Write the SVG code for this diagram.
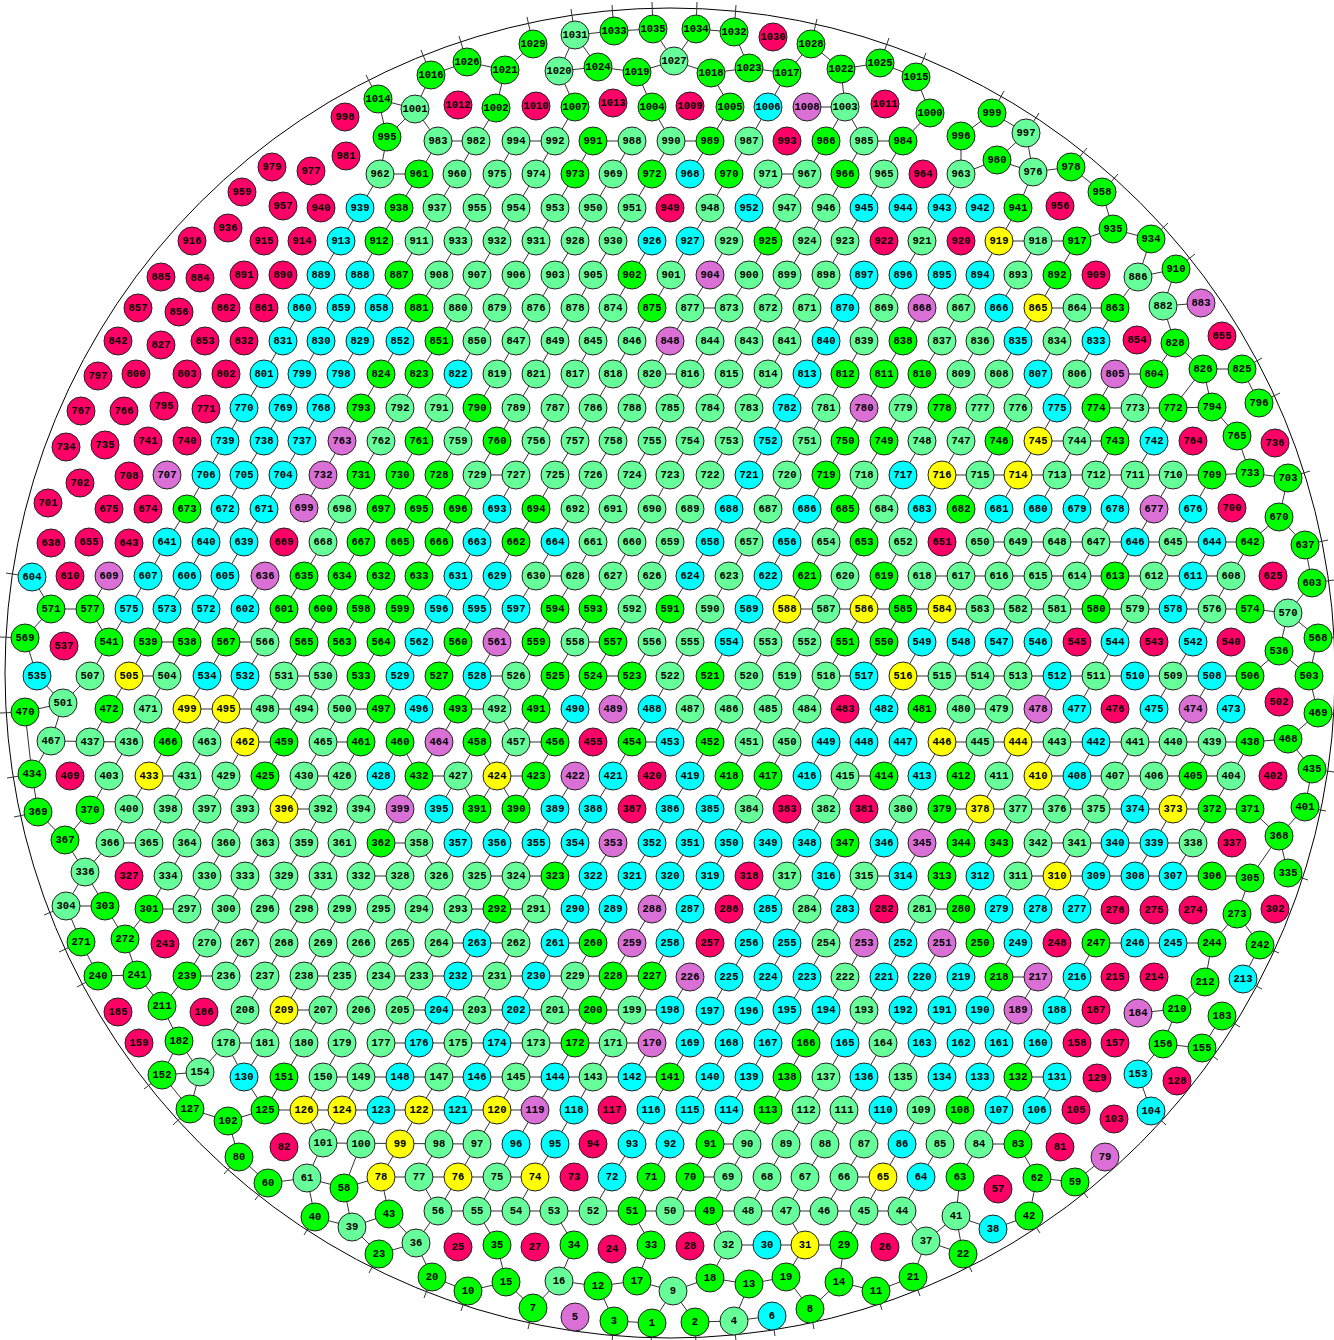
<svg xmlns="http://www.w3.org/2000/svg" width="1334" height="1340" viewBox="0 0 1334 1340">
<style>
.nd circle{stroke:#222;stroke-width:1}
.a circle{fill:#66ff99}
.g circle{fill:#00ff00}
.c circle{fill:#00ffff}
.r circle{fill:#ff0066}
.p circle{fill:#da70d6}
.y circle{fill:#ffff00}
.nd text{font-family:"Liberation Mono","DejaVu Sans Mono",monospace;font-weight:bold;font-size:10.5px;text-anchor:middle;dominant-baseline:central;fill:#000}
.e{fill:none;stroke:#333;stroke-width:1}
</style>
<rect width="1334" height="1340" fill="#fff"/>
<circle cx="670" cy="673" r="665" style="fill:none;stroke:#000;stroke-width:1"/>
<g id="connectors">
<path class="e" d="M378 99 366 75M431 75 421 50M467 62 459 36M533 44 527 17M575 35 571 9M614 31 612 5M653 29 652 2M696 29 697 2M734 32 736 5M811 44 817 19M880 63 889 38M916 77 926 53M992 113 1004 91M1026 133 1039 113M1071 167 1087 148M1102 192 1118 174M1151 239 1168 223M1176 269 1195 254M1242 369 1262 358M1259 403 1280 393M1288 478 1310 471M1305 545 1328 540M1312 583 1334 580M1318 638 1340 637M1318 713 1340 715M1312 769 1334 772M1305 807 1326 811M1288 873 1308 880M1260 945 1279 953M1243 979 1262 989M1222 1016 1240 1027M1202 1048 1218 1060M1151 1111 1166 1125M1075 1182 1088 1198M1029 1216 1040 1233M963 1254 972 1272M913 1277 920 1296M876 1291 882 1310M810 1309 814 1329M772 1316 775 1336M734 1321 736 1341M695 1322 696 1344M652 1323 651 1344M614 1321 612 1342M533 1308 528 1329M468 1291 461 1311M432 1277 424 1298M379 1254 369 1273M315 1217 304 1235M268 1183 255 1200M239 1157 224 1174M190 1109 173 1125M162 1075 144 1089M98 976 77 987M81 942 59 952M66 906 44 915M38 812 14 817M32 774 7 778M25 712 0 713M25 638 0 637M32 577 6 573"/>
<path class="e" d="M575 35 614 31M614 31 653 29M696 29 734 32M533 44 505 70M575 35 559 71M575 35 598 67M653 29 674 61M696 29 674 61M734 32 749 68M811 44 787 73M811 44 841 69M431 75 467 62M467 62 505 70M559 71 598 67M598 67 637 72M637 72 674 61M711 73 749 68M749 68 787 73M841 69 880 63M880 63 916 77M674 61 711 73M711 73 730 107M787 73 768 107M841 69 845 107M916 77 930 113M431 75 415 109M505 70 496 108M559 71 575 107M637 72 652 107M378 99 415 109M807 107 845 107M378 99 387 137M415 109 387 137M415 109 438 141M496 108 476 141M575 107 555 141M652 107 671 141M730 107 710 141M768 107 749 141M845 107 826 141M845 107 864 141M930 113 903 141M961 136 992 113M992 113 1026 133M1026 133 997 160M1026 133 1033 172M997 160 961 174M997 160 1033 172M961 136 961 174M1033 172 1071 167M1033 172 1018 208M1071 167 1102 192M1102 192 1113 229M1113 229 1077 241M1113 229 1151 239M1151 239 1138 277M1138 277 1176 269M1176 269 1163 306M1138 277 1115 308M1163 306 1201 303M1163 306 1175 343M387 137 380 174
M438 141 476 141M516 141 555 141M593 141 632 141M671 141 710 141M864 141 903 141
M438 141 419 174M476 141 457 174M516 141 497 174M555 141 536 174M593 141 575 174M632 141 613 174M671 141 652 174M710 141 690 174M749 141 729 174M826 141 807 174M864 141 845 174M903 141 884 174
M380 174 419 174M768 174 807 174
M380 174 360 208M419 174 399 208M457 174 437 208M497 174 477 208M536 174 516 208M575 174 555 208M613 174 593 208M652 174 632 208M729 174 710 208M768 174 749 208M807 174 787 208M845 174 826 208M884 174 864 208M961 174 942 208
M360 208 341 241M399 208 379 241M437 208 419 241M477 208 458 241M516 208 497 241M555 208 536 241M593 208 575 241M632 208 613 241M710 208 690 241M749 208 729 241M787 208 768 241M826 208 807 241M864 208 845 241M942 208 922 241M1018 208 999 241
M999 241 1077 241
M341 241 321 275M379 241 360 275M419 241 399 275M458 241 439 275M497 241 477 275M536 241 516 275M575 241 555 275M613 241 593 275M652 241 632 275M690 241 671 275M729 241 710 275M768 241 749 275M807 241 787 275M845 241 826 275M922 241 903 275M999 241 980 275M1038 241 1018 275M1077 241 1057 275
M321 275 302 308M360 275 341 308M399 275 379 308M439 275 419 308M477 275 458 308M516 275 497 308M555 275 536 308M593 275 575 308M632 275 613 308M671 275 652 308M710 275 690 308M749 275 729 308M787 275 768 308M826 275 807 308M864 275 845 308M903 275 884 308M942 275 922 308M980 275 961 308M1018 275 999 308M1057 275 1038 308
M690 308 729 308M1038 308 1115 308
M302 308 283 341M341 308 321 341M379 308 360 341M419 308 400 341M458 308 439 341M497 308 477 341M536 308 516 341M575 308 555 341M613 308 593 341M652 308 632 341M690 308 670 341M729 308 710 341M768 308 749 341M807 308 787 341M845 308 826 341M884 308 864 341M922 308 903 341M961 308 942 341M999 308 980 341M1038 308 1018 341M1077 308 1057 341M1115 308 1096 341
M283 341 264 374M321 341 302 374M360 341 341 374M400 341 381 374M439 341 419 374M477 341 458 374M516 341 497 374M555 341 536 374M593 341 575 374M632 341 613 374M670 341 652 374M710 341 690 374M749 341 729 374M787 341 768 374M826 341 807 374M864 341 845 374M903 341 884 374M942 341 922 374M980 341 961 374M1018 341 999 374M1057 341 1038 374M1096 341 1077 374M1175 343 1154 374M1175 343 1203 369
M652 374 690 374M1115 374 1154 374M1203 369 1242 369
M264 374 244 408M302 374 283 408M341 374 321 408M381 374 361 408M419 374 400 408M458 374 439 408M497 374 477 408M536 374 516 408M575 374 555 408M613 374 593 408M652 374 632 408M690 374 670 408M729 374 710 408M768 374 749 408M807 374 787 408M845 374 826 408M884 374 864 408M922 374 903 408M961 374 942 408M999 374 980 408M1038 374 1018 408M1077 374 1057 408M1115 374 1096 408M1154 374 1135 408M1203 369 1173 408M1203 369 1212 407M1242 369 1259 403
M1096 408 1173 408M1173 408 1212 407
M244 408 225 441M283 408 264 441M321 408 302 441M361 408 342 441M400 408 381 441M439 408 419 441M477 408 458 441M516 408 497 441M555 408 536 441M593 408 575 441M632 408 613 441M670 408 652 441M710 408 690 441M749 408 729 441M787 408 768 441M826 408 807 441M864 408 845 441M903 408 884 441M942 408 922 441M980 408 961 441M1018 408 999 441M1057 408 1038 441M1096 408 1077 441M1135 408 1115 441M1173 408 1154 441M1212 407 1237 436
M1038 441 1115 441
M225 441 206 475M264 441 244 475M302 441 283 475M342 441 323 475M381 441 361 475M419 441 400 475M458 441 439 475M497 441 477 475M536 441 516 475M575 441 555 475M613 441 593 475M652 441 632 475M690 441 670 475M729 441 710 475M768 441 749 475M807 441 787 475M845 441 826 475M884 441 864 475M922 441 903 475M961 441 942 475M999 441 980 475M1038 441 1018 475M1077 441 1057 475M1115 441 1096 475M1154 441 1135 475M1237 436 1250 473
M477 475 516 475M942 475 1212 475M1212 475 1250 473M1250 473 1288 478
M206 475 187 509M244 475 225 509M283 475 264 509M323 475 304 508M361 475 342 509M400 475 381 509M439 475 419 509M477 475 458 509M516 475 497 509M555 475 536 509M593 475 575 509M632 475 613 509M670 475 652 509M710 475 690 509M749 475 729 509M787 475 768 509M826 475 807 509M864 475 845 509M903 475 884 509M942 475 922 509M980 475 961 509M1018 475 999 509M1057 475 1038 509M1096 475 1077 509M1135 475 1115 509M1173 475 1154 509M1212 475 1193 509M1288 478 1279 517
M187 509 167 542M225 509 206 542M264 509 244 542M342 509 323 542M381 509 361 542M419 509 400 542M458 509 439 542M497 509 477 542M536 509 516 542M575 509 555 542M613 509 593 542M652 509 632 542M690 509 670 542M729 509 710 542M768 509 749 542M807 509 787 542M845 509 826 542M884 509 864 542M922 509 903 542M999 509 980 542M1038 509 1018 542M1077 509 1057 542M1115 509 1096 542M1154 509 1135 542M1193 509 1173 542M1279 517 1250 542M1279 517 1305 545
M980 542 1250 542
M167 542 148 576M206 542 187 576M244 542 225 576M323 542 304 576M361 542 342 576M400 542 381 576M439 542 419 576M477 542 458 576M516 542 497 576M555 542 536 576M593 542 575 576M632 542 613 576M670 542 652 576M710 542 690 576M749 542 729 576M787 542 768 576M826 542 807 576M864 542 845 576M903 542 884 576M980 542 961 576M1018 542 999 576M1057 542 1038 576M1096 542 1077 576M1135 542 1115 576M1173 542 1154 576M1212 542 1193 576M1250 542 1231 576M1305 545 1312 583
M536 576 575 576M922 576 1231 576
M109 576 90 609M148 576 129 609M187 576 167 609M225 576 206 609M265 576 245 609M304 576 284 609M342 576 323 609M381 576 361 609M419 576 400 609M458 576 439 609M497 576 477 609M536 576 516 609M575 576 555 609M613 576 593 609M652 576 632 609M690 576 670 609M729 576 710 609M768 576 749 609M807 576 787 609M845 576 826 609M884 576 864 609M922 576 903 609M961 576 942 609M999 576 980 609M1038 576 1018 609M1077 576 1057 609M1115 576 1096 609M1154 576 1135 609M1193 576 1173 609M1231 576 1212 609M32 577 51 609M1312 583 1288 613
M51 609 90 609M787 609 1250 609M1250 609 1288 613
M51 609 25 638M90 609 109 642M129 609 109 642M167 609 148 642M206 609 187 642M245 609 226 642M284 609 265 642M323 609 304 642M361 609 342 642M400 609 381 642M439 609 419 642M477 609 458 642M516 609 497 642M555 609 536 642M593 609 575 642M632 609 613 642M670 609 652 642M710 609 690 642M749 609 729 642M787 609 768 642M826 609 807 642M864 609 845 642M903 609 884 642M942 609 922 642M980 609 961 642M1018 609 999 642M1057 609 1038 642M1135 609 1115 642M1212 609 1193 642M1288 613 1279 651M1288 613 1318 638
M148 642 187 642M226 642 265 642M575 642 613 642
M25 638 37 676M109 642 90 676M148 642 129 676M187 642 167 676M226 642 207 676M265 642 245 676M304 642 284 676M342 642 323 676M381 642 361 676M419 642 400 676M458 642 439 676M497 642 477 676M536 642 516 676M575 642 555 676M613 642 593 676M652 642 632 676M690 642 670 676M729 642 710 676M768 642 749 676M807 642 787 676M845 642 826 676M884 642 864 676M922 642 903 676M961 642 942 676M999 642 980 676M1038 642 1018 676M1115 642 1096 676M1193 642 1173 676M1279 651 1250 676M1279 651 1309 676M1318 638 1309 676
M129 676 167 676M284 676 323 676M477 676 516 676M593 676 632 676M826 676 864 676M903 676 1250 676
M37 676 63 703M90 676 63 703M129 676 109 709M167 676 148 709M207 676 187 709M245 676 226 709M284 676 265 709M323 676 304 709M361 676 342 709M400 676 381 709M439 676 419 709M477 676 458 709M516 676 497 709M555 676 536 709M593 676 575 709M632 676 613 709M670 676 652 709M710 676 690 709M749 676 729 709M787 676 768 709M826 676 807 709M903 676 884 709M942 676 922 709M980 676 961 709M1018 676 999 709M1057 676 1038 709M1096 676 1077 709M1173 676 1154 709M1212 676 1193 709M1250 676 1231 709M1309 676 1318 713
M25 712 63 703M187 709 304 709M342 709 381 709M458 709 497 709M961 709 999 709
M63 703 51 741M25 712 32 774M109 709 90 742M148 709 129 742M187 709 168 742M226 709 207 742M265 709 245 742M304 709 284 742M342 709 323 742M381 709 361 742M419 709 400 742M458 709 439 742M497 709 477 742M536 709 516 742M575 709 555 742M652 709 632 742M690 709 670 742M729 709 710 742M768 709 749 742M807 709 787 742M884 709 864 742M922 709 903 742M961 709 942 742M999 709 980 742M1038 709 1018 742M1077 709 1057 742M1154 709 1135 742M1193 709 1173 742M1231 709 1212 742M1318 713 1288 739M497 709 516 742
M51 741 129 742M245 742 284 742M323 742 361 742M516 742 555 742M632 742 670 742M942 742 1250 742M1250 742 1288 739
M51 741 32 774M129 742 109 776M168 742 149 776M207 742 187 776M245 742 226 776M284 742 265 776M323 742 304 776M361 742 342 776M400 742 381 776M439 742 419 776M477 742 458 776M516 742 497 776M555 742 536 776M632 742 613 776M710 742 690 776M749 742 729 776M787 742 768 776M826 742 807 776M864 742 845 776M903 742 884 776M942 742 922 776M980 742 961 776M1018 742 999 776M1057 742 1038 776M1096 742 1077 776M1135 742 1115 776M1173 742 1154 776M1212 742 1193 776M1250 742 1231 776M1288 739 1312 769M400 742 419 776M477 742 497 776
M149 776 187 776M304 776 342 776M419 776 458 776M497 776 536 776M845 776 884 776M1038 776 1231 776
M32 774 38 812M109 776 90 810M149 776 129 809M187 776 168 809M226 776 207 809M265 776 245 809M304 776 284 809M342 776 323 809M381 776 361 809M419 776 400 809M458 776 439 809M497 776 477 809M536 776 516 809M575 776 555 809M613 776 593 809M690 776 670 809M729 776 710 809M768 776 749 809M845 776 826 809M922 776 903 809M961 776 942 809M999 776 980 809M1038 776 1018 809M1077 776 1057 809M1115 776 1096 809M1154 776 1135 809M1193 776 1173 809M1231 776 1212 809M1312 769 1305 807M458 776 477 809M497 776 516 809
M284 809 323 809M942 809 1250 809
M38 812 65 840M90 810 65 840M129 809 110 843M168 809 149 843M207 809 187 843M245 809 226 843M284 809 265 843M323 809 304 843M361 809 342 843M400 809 381 843M439 809 419 843M477 809 458 843M516 809 497 843M555 809 536 843M593 809 575 843M670 809 652 843M710 809 690 843M749 809 729 843M826 809 807 843M903 809 884 843M942 809 922 843M980 809 961 843M1018 809 999 843M1057 809 1038 843M1096 809 1077 843M1135 809 1115 843M1173 809 1154 843M1212 809 1193 843M1250 809 1279 836M1305 807 1279 836
M110 843 149 843M381 843 419 843M1038 843 1193 843
M65 840 85 872M110 843 85 872M187 843 168 876M226 843 207 876M265 843 245 876M304 843 284 876M342 843 323 876M381 843 361 876M419 843 400 876M458 843 439 876M497 843 477 876M536 843 516 876M575 843 555 876M613 843 593 876M652 843 632 876M690 843 670 876M729 843 710 876M807 843 787 876M845 843 826 876M884 843 864 876M922 843 903 876M961 843 942 876M999 843 980 876M1038 843 1018 876M1077 843 1057 876M1115 843 1096 876M1154 843 1135 876M1193 843 1173 876M1279 836 1288 873M1279 836 1250 878M419 843 439 876
M361 876 400 876M477 876 555 876M864 876 903 876M1018 876 1250 876
M85 872 66 906M85 872 105 906M168 876 149 909M207 876 187 909M245 876 226 909M284 876 265 909M323 876 304 909M361 876 342 909M400 876 381 909M439 876 419 909M477 876 458 909M516 876 497 909M555 876 536 909M593 876 575 909M632 876 613 909M670 876 652 909M710 876 690 909M787 876 768 909M826 876 807 909M864 876 845 909M942 876 922 909M980 876 961 909M1018 876 999 909M1057 876 1038 909M1096 876 1077 909M1250 878 1237 914
M66 906 105 906M149 909 187 909M458 909 536 909M922 909 961 909
M66 906 81 942M105 906 125 939M149 909 125 939M226 909 207 943M265 909 245 943M304 909 284 943M342 909 323 943M381 909 361 943M419 909 400 943M458 909 439 943M497 909 477 943M536 909 516 943M575 909 555 943M613 909 593 943M652 909 632 943M690 909 670 943M768 909 749 943M807 909 787 943M845 909 826 943M922 909 903 943M961 909 942 943M999 909 980 943M1038 909 1018 943M1237 914 1212 943M1237 914 1260 945
M439 943 516 943M555 943 593 943M1096 943 1212 943
M81 942 98 976M125 939 137 975M207 943 187 976M245 943 226 976M284 943 265 976M323 943 304 976M361 943 342 976M400 943 381 976M439 943 419 976M477 943 458 976M516 943 497 976M555 943 536 976M593 943 575 976M632 943 613 976M670 943 652 976M749 943 729 977M787 943 768 977M826 943 807 977M864 943 845 977M903 943 884 977M942 943 922 977M980 943 961 977M1018 943 999 977M1096 943 1077 977M1212 943 1205 982M1260 945 1243 979
M98 976 137 975M187 976 226 976M304 976 342 976M381 976 652 976M999 977 1038 977
M137 975 162 1006M187 976 162 1006M265 976 245 1010M304 976 284 1010M342 976 323 1010M381 976 361 1010M419 976 400 1010M458 976 439 1010M497 976 477 1010M536 976 516 1010M575 976 555 1010M613 976 593 1010M652 976 632 1010M690 977 670 1010M729 977 710 1011M768 977 749 1011M807 977 787 1010M845 977 826 1010M884 977 864 1010M922 977 903 1010M961 977 942 1010M999 977 980 1010M1038 977 1018 1010M1077 977 1057 1010M1205 982 1177 1009
M284 1010 323 1010M400 1010 670 1010M1138 1013 1177 1009
M162 1006 179 1041M245 1010 226 1043M284 1010 265 1043M323 1010 304 1043M361 1010 342 1043M400 1010 381 1043M439 1010 419 1043M477 1010 458 1043M516 1010 497 1043M555 1010 536 1043M593 1010 575 1043M632 1010 613 1043M670 1010 652 1043M710 1011 690 1043M749 1011 729 1043M787 1010 768 1043M826 1010 806 1043M864 1010 845 1043M903 1010 883 1043M942 1010 922 1043M980 1010 961 1043M1018 1010 999 1043M1057 1010 1038 1043M1177 1009 1163 1044M1222 1016 1202 1048
M226 1043 265 1043M381 1043 652 1043M1163 1044 1202 1048
M179 1041 162 1075M179 1041 200 1072M226 1043 200 1072M226 1043 244 1077M265 1043 244 1077M304 1043 284 1077M342 1043 323 1077M381 1043 361 1077M419 1043 400 1077M458 1043 439 1077M497 1043 477 1077M536 1043 516 1077M575 1043 555 1077M613 1043 593 1077M652 1043 632 1077M690 1043 670 1077M729 1043 710 1077M768 1043 749 1077M806 1043 787 1077M845 1043 826 1077M883 1043 864 1077M922 1043 903 1077M961 1043 942 1077M999 1043 980 1077M1038 1043 1018 1077M1163 1044 1138 1074
M162 1075 200 1072M323 1077 670 1077M1018 1077 1057 1077
M162 1075 190 1109M200 1072 190 1109M244 1077 265 1110M284 1077 265 1110M323 1077 304 1110M361 1077 342 1110M400 1077 381 1110M439 1077 419 1110M477 1077 458 1110M516 1077 497 1110M555 1077 535 1110M593 1077 574 1110M670 1077 651 1110M710 1077 690 1110M749 1077 729 1110M787 1077 768 1110M826 1077 806 1110M864 1077 844 1110M903 1077 883 1110M942 1077 921 1110M980 1077 960 1110M1018 1077 999 1110M1057 1077 1037 1110M1138 1074 1151 1111
M190 1109 228 1121M228 1121 265 1110M265 1110 535 1110
M228 1121 239 1157M304 1110 323 1143M342 1110 323 1143M381 1110 361 1144M419 1110 400 1144M458 1110 439 1144M497 1110 477 1144M535 1110 516 1144M574 1110 555 1144M651 1110 632 1144M690 1110 670 1144M729 1110 710 1144M768 1110 747 1144M806 1110 786 1144M844 1110 825 1144M883 1110 864 1144M921 1110 902 1144M960 1110 940 1144M999 1110 979 1144M1037 1110 1018 1144
M323 1143 477 1144M710 1144 747 1144M979 1144 1018 1144
M239 1157 268 1183M323 1143 307 1178M361 1144 344 1188M400 1144 381 1177M439 1144 419 1177M477 1144 458 1177M516 1144 497 1177M555 1144 535 1177M632 1144 612 1177M670 1144 651 1177M710 1144 690 1177M747 1144 728 1177M786 1144 767 1177M825 1144 805 1177M864 1144 844 1177M902 1144 883 1177M940 1144 921 1177M979 1144 960 1177M1018 1144 1037 1178M1105 1157 1075 1182
M268 1183 307 1178 344 1188 381 1177 535 1177M690 1177 728 1177M844 1177 883 1177M1037 1178 1075 1182
M307 1178 315 1217M344 1188 352 1227M381 1177 389 1214M419 1177 438 1211M458 1177 438 1211M497 1177 477 1211M535 1177 516 1211M612 1177 593 1211M651 1177 632 1211M690 1177 670 1211M728 1177 709 1211M767 1177 748 1211M805 1177 786 1211M844 1177 824 1211M883 1177 864 1211M921 1177 902 1211M960 1177 956 1216M1037 1178 1029 1216
M315 1217 352 1227 389 1214M438 1211 902 1211M956 1216 993 1229 1029 1216
M352 1227 379 1254M389 1214 416 1243M438 1211 416 1243M477 1211 497 1245M554 1211 574 1245M632 1211 651 1245M709 1211 728 1245M786 1211 805 1245M864 1211 844 1245M902 1211 926 1241M956 1216 926 1241M956 1216 963 1254
M379 1254 416 1243M728 1245 844 1245M926 1241 963 1254
M416 1243 432 1277M497 1245 506 1282M574 1245 559 1281M651 1245 637 1281M728 1245 710 1278M805 1245 786 1277M844 1245 839 1282M926 1241 913 1277
M432 1277 468 1291 506 1282M559 1281 598 1286 637 1281 673 1291 710 1278 749 1284 786 1277M839 1282 876 1291 913 1277
M506 1282 533 1308M559 1281 533 1308M598 1286 614 1321M673 1291 652 1323M673 1291 695 1322M749 1284 734 1321M786 1277 810 1309M839 1282 810 1309
M614 1321 652 1323M695 1322 734 1321 772 1316"/>
</g>
<g id="nodes">
<g id="n1031" class="nd a"><circle cx="575" cy="35" r="14"/><text x="575" y="35">1031</text></g>
<g id="n1033" class="nd g"><circle cx="614" cy="31" r="14"/><text x="614" y="31">1033</text></g>
<g id="n1035" class="nd g"><circle cx="653" cy="29" r="14"/><text x="653" y="29">1035</text></g>
<g id="n1034" class="nd g"><circle cx="696" cy="29" r="14"/><text x="696" y="29">1034</text></g>
<g id="n1032" class="nd g"><circle cx="734" cy="32" r="14"/><text x="734" y="32">1032</text></g>
<g id="n1030" class="nd r"><circle cx="773" cy="37" r="14"/><text x="773" y="37">1030</text></g>
<g id="n1028" class="nd g"><circle cx="811" cy="44" r="14"/><text x="811" y="44">1028</text></g>
<g id="n1029" class="nd g"><circle cx="533" cy="44" r="14"/><text x="533" y="44">1029</text></g>
<g id="n1016" class="nd g"><circle cx="431" cy="75" r="14"/><text x="431" y="75">1016</text></g>
<g id="n1026" class="nd g"><circle cx="467" cy="62" r="14"/><text x="467" y="62">1026</text></g>
<g id="n1021" class="nd g"><circle cx="505" cy="70" r="14"/><text x="505" y="70">1021</text></g>
<g id="n1020" class="nd a"><circle cx="559" cy="71" r="14"/><text x="559" y="71">1020</text></g>
<g id="n1024" class="nd g"><circle cx="598" cy="67" r="14"/><text x="598" y="67">1024</text></g>
<g id="n1019" class="nd g"><circle cx="637" cy="72" r="14"/><text x="637" y="72">1019</text></g>
<g id="n1027" class="nd a"><circle cx="674" cy="61" r="14"/><text x="674" y="61">1027</text></g>
<g id="n1018" class="nd g"><circle cx="711" cy="73" r="14"/><text x="711" y="73">1018</text></g>
<g id="n1023" class="nd g"><circle cx="749" cy="68" r="14"/><text x="749" y="68">1023</text></g>
<g id="n1017" class="nd g"><circle cx="787" cy="73" r="14"/><text x="787" y="73">1017</text></g>
<g id="n1022" class="nd g"><circle cx="841" cy="69" r="14"/><text x="841" y="69">1022</text></g>
<g id="n1025" class="nd g"><circle cx="880" cy="63" r="14"/><text x="880" y="63">1025</text></g>
<g id="n1015" class="nd g"><circle cx="916" cy="77" r="14"/><text x="916" y="77">1015</text></g>
<g id="n1014" class="nd g"><circle cx="378" cy="99" r="14"/><text x="378" y="99">1014</text></g>
<g id="n1001" class="nd a"><circle cx="415" cy="109" r="14"/><text x="415" y="109">1001</text></g>
<g id="n1012" class="nd r"><circle cx="458" cy="105" r="14"/><text x="458" y="105">1012</text></g>
<g id="n1002" class="nd g"><circle cx="496" cy="108" r="14"/><text x="496" y="108">1002</text></g>
<g id="n1010" class="nd r"><circle cx="536" cy="106" r="14"/><text x="536" y="106">1010</text></g>
<g id="n1007" class="nd g"><circle cx="575" cy="107" r="14"/><text x="575" y="107">1007</text></g>
<g id="n1013" class="nd r"><circle cx="613" cy="103" r="14"/><text x="613" y="103">1013</text></g>
<g id="n1004" class="nd g"><circle cx="652" cy="107" r="14"/><text x="652" y="107">1004</text></g>
<g id="n1009" class="nd r"><circle cx="690" cy="106" r="14"/><text x="690" y="106">1009</text></g>
<g id="n1005" class="nd g"><circle cx="730" cy="107" r="14"/><text x="730" y="107">1005</text></g>
<g id="n1006" class="nd c"><circle cx="768" cy="107" r="14"/><text x="768" y="107">1006</text></g>
<g id="n1008" class="nd p"><circle cx="807" cy="107" r="14"/><text x="807" y="107">1008</text></g>
<g id="n1003" class="nd a"><circle cx="845" cy="107" r="14"/><text x="845" y="107">1003</text></g>
<g id="n1011" class="nd r"><circle cx="885" cy="104" r="14"/><text x="885" y="104">1011</text></g>
<g id="n1000" class="nd g"><circle cx="930" cy="113" r="14"/><text x="930" y="113">1000</text></g>
<g id="n998" class="nd r"><circle cx="345" cy="117" r="14"/><text x="345" y="117">998</text></g>
<g id="n999" class="nd g"><circle cx="992" cy="113" r="14"/><text x="992" y="113">999</text></g>
<g id="n997" class="nd a"><circle cx="1026" cy="133" r="14"/><text x="1026" y="133">997</text></g>
<g id="n996" class="nd g"><circle cx="961" cy="136" r="14"/><text x="961" y="136">996</text></g>
<g id="n995" class="nd g"><circle cx="387" cy="137" r="14"/><text x="387" y="137">995</text></g>
<g id="n983" class="nd a"><circle cx="438" cy="141" r="14"/><text x="438" y="141">983</text></g>
<g id="n982" class="nd a"><circle cx="476" cy="141" r="14"/><text x="476" y="141">982</text></g>
<g id="n994" class="nd a"><circle cx="516" cy="141" r="14"/><text x="516" y="141">994</text></g>
<g id="n992" class="nd a"><circle cx="555" cy="141" r="14"/><text x="555" y="141">992</text></g>
<g id="n991" class="nd g"><circle cx="593" cy="141" r="14"/><text x="593" y="141">991</text></g>
<g id="n988" class="nd a"><circle cx="632" cy="141" r="14"/><text x="632" y="141">988</text></g>
<g id="n990" class="nd a"><circle cx="671" cy="141" r="14"/><text x="671" y="141">990</text></g>
<g id="n989" class="nd g"><circle cx="710" cy="141" r="14"/><text x="710" y="141">989</text></g>
<g id="n987" class="nd a"><circle cx="749" cy="141" r="14"/><text x="749" y="141">987</text></g>
<g id="n993" class="nd r"><circle cx="787" cy="141" r="14"/><text x="787" y="141">993</text></g>
<g id="n986" class="nd g"><circle cx="826" cy="141" r="14"/><text x="826" y="141">986</text></g>
<g id="n985" class="nd a"><circle cx="864" cy="141" r="14"/><text x="864" y="141">985</text></g>
<g id="n984" class="nd g"><circle cx="903" cy="141" r="14"/><text x="903" y="141">984</text></g>
<g id="n981" class="nd r"><circle cx="346" cy="156" r="14"/><text x="346" y="156">981</text></g>
<g id="n980" class="nd g"><circle cx="997" cy="160" r="14"/><text x="997" y="160">980</text></g>
<g id="n979" class="nd r"><circle cx="272" cy="167" r="14"/><text x="272" y="167">979</text></g>
<g id="n977" class="nd r"><circle cx="311" cy="171" r="14"/><text x="311" y="171">977</text></g>
<g id="n962" class="nd a"><circle cx="380" cy="174" r="14"/><text x="380" y="174">962</text></g>
<g id="n961" class="nd g"><circle cx="419" cy="174" r="14"/><text x="419" y="174">961</text></g>
<g id="n960" class="nd a"><circle cx="457" cy="174" r="14"/><text x="457" y="174">960</text></g>
<g id="n975" class="nd a"><circle cx="497" cy="174" r="14"/><text x="497" y="174">975</text></g>
<g id="n974" class="nd a"><circle cx="536" cy="174" r="14"/><text x="536" y="174">974</text></g>
<g id="n973" class="nd g"><circle cx="575" cy="174" r="14"/><text x="575" y="174">973</text></g>
<g id="n969" class="nd a"><circle cx="613" cy="174" r="14"/><text x="613" y="174">969</text></g>
<g id="n972" class="nd g"><circle cx="652" cy="174" r="14"/><text x="652" y="174">972</text></g>
<g id="n968" class="nd c"><circle cx="690" cy="174" r="14"/><text x="690" y="174">968</text></g>
<g id="n970" class="nd g"><circle cx="729" cy="174" r="14"/><text x="729" y="174">970</text></g>
<g id="n971" class="nd a"><circle cx="768" cy="174" r="14"/><text x="768" y="174">971</text></g>
<g id="n967" class="nd a"><circle cx="807" cy="174" r="14"/><text x="807" y="174">967</text></g>
<g id="n966" class="nd g"><circle cx="845" cy="174" r="14"/><text x="845" y="174">966</text></g>
<g id="n965" class="nd a"><circle cx="884" cy="174" r="14"/><text x="884" y="174">965</text></g>
<g id="n964" class="nd r"><circle cx="923" cy="174" r="14"/><text x="923" y="174">964</text></g>
<g id="n963" class="nd a"><circle cx="961" cy="174" r="14"/><text x="961" y="174">963</text></g>
<g id="n976" class="nd a"><circle cx="1033" cy="172" r="14"/><text x="1033" y="172">976</text></g>
<g id="n978" class="nd g"><circle cx="1071" cy="167" r="14"/><text x="1071" y="167">978</text></g>
<g id="n959" class="nd r"><circle cx="242" cy="192" r="14"/><text x="242" y="192">959</text></g>
<g id="n958" class="nd g"><circle cx="1102" cy="192" r="14"/><text x="1102" y="192">958</text></g>
<g id="n957" class="nd r"><circle cx="283" cy="206" r="14"/><text x="283" y="206">957</text></g>
<g id="n940" class="nd r"><circle cx="321" cy="208" r="14"/><text x="321" y="208">940</text></g>
<g id="n939" class="nd c"><circle cx="360" cy="208" r="14"/><text x="360" y="208">939</text></g>
<g id="n938" class="nd g"><circle cx="399" cy="208" r="14"/><text x="399" y="208">938</text></g>
<g id="n937" class="nd a"><circle cx="437" cy="208" r="14"/><text x="437" y="208">937</text></g>
<g id="n955" class="nd a"><circle cx="477" cy="208" r="14"/><text x="477" y="208">955</text></g>
<g id="n954" class="nd a"><circle cx="516" cy="208" r="14"/><text x="516" y="208">954</text></g>
<g id="n953" class="nd a"><circle cx="555" cy="208" r="14"/><text x="555" y="208">953</text></g>
<g id="n950" class="nd a"><circle cx="593" cy="208" r="14"/><text x="593" y="208">950</text></g>
<g id="n951" class="nd a"><circle cx="632" cy="208" r="14"/><text x="632" y="208">951</text></g>
<g id="n949" class="nd r"><circle cx="670" cy="208" r="14"/><text x="670" y="208">949</text></g>
<g id="n948" class="nd a"><circle cx="710" cy="208" r="14"/><text x="710" y="208">948</text></g>
<g id="n952" class="nd c"><circle cx="749" cy="208" r="14"/><text x="749" y="208">952</text></g>
<g id="n947" class="nd a"><circle cx="787" cy="208" r="14"/><text x="787" y="208">947</text></g>
<g id="n946" class="nd a"><circle cx="826" cy="208" r="14"/><text x="826" y="208">946</text></g>
<g id="n945" class="nd c"><circle cx="864" cy="208" r="14"/><text x="864" y="208">945</text></g>
<g id="n944" class="nd c"><circle cx="903" cy="208" r="14"/><text x="903" y="208">944</text></g>
<g id="n943" class="nd c"><circle cx="942" cy="208" r="14"/><text x="942" y="208">943</text></g>
<g id="n942" class="nd c"><circle cx="980" cy="208" r="14"/><text x="980" y="208">942</text></g>
<g id="n941" class="nd g"><circle cx="1018" cy="208" r="14"/><text x="1018" y="208">941</text></g>
<g id="n956" class="nd r"><circle cx="1060" cy="206" r="14"/><text x="1060" y="206">956</text></g>
<g id="n936" class="nd r"><circle cx="228" cy="228" r="14"/><text x="228" y="228">936</text></g>
<g id="n935" class="nd g"><circle cx="1113" cy="229" r="14"/><text x="1113" y="229">935</text></g>
<g id="n934" class="nd g"><circle cx="1151" cy="239" r="14"/><text x="1151" y="239">934</text></g>
<g id="n916" class="nd r"><circle cx="192" cy="241" r="14"/><text x="192" y="241">916</text></g>
<g id="n915" class="nd r"><circle cx="264" cy="241" r="14"/><text x="264" y="241">915</text></g>
<g id="n914" class="nd r"><circle cx="302" cy="241" r="14"/><text x="302" y="241">914</text></g>
<g id="n913" class="nd c"><circle cx="341" cy="241" r="14"/><text x="341" y="241">913</text></g>
<g id="n912" class="nd g"><circle cx="379" cy="241" r="14"/><text x="379" y="241">912</text></g>
<g id="n911" class="nd a"><circle cx="419" cy="241" r="14"/><text x="419" y="241">911</text></g>
<g id="n933" class="nd a"><circle cx="458" cy="241" r="14"/><text x="458" y="241">933</text></g>
<g id="n932" class="nd a"><circle cx="497" cy="241" r="14"/><text x="497" y="241">932</text></g>
<g id="n931" class="nd a"><circle cx="536" cy="241" r="14"/><text x="536" y="241">931</text></g>
<g id="n928" class="nd a"><circle cx="575" cy="241" r="14"/><text x="575" y="241">928</text></g>
<g id="n930" class="nd a"><circle cx="613" cy="241" r="14"/><text x="613" y="241">930</text></g>
<g id="n926" class="nd c"><circle cx="652" cy="241" r="14"/><text x="652" y="241">926</text></g>
<g id="n927" class="nd c"><circle cx="690" cy="241" r="14"/><text x="690" y="241">927</text></g>
<g id="n929" class="nd a"><circle cx="729" cy="241" r="14"/><text x="729" y="241">929</text></g>
<g id="n925" class="nd g"><circle cx="768" cy="241" r="14"/><text x="768" y="241">925</text></g>
<g id="n924" class="nd a"><circle cx="807" cy="241" r="14"/><text x="807" y="241">924</text></g>
<g id="n923" class="nd a"><circle cx="845" cy="241" r="14"/><text x="845" y="241">923</text></g>
<g id="n922" class="nd r"><circle cx="884" cy="241" r="14"/><text x="884" y="241">922</text></g>
<g id="n921" class="nd a"><circle cx="922" cy="241" r="14"/><text x="922" y="241">921</text></g>
<g id="n920" class="nd r"><circle cx="961" cy="241" r="14"/><text x="961" y="241">920</text></g>
<g id="n919" class="nd y"><circle cx="999" cy="241" r="14"/><text x="999" y="241">919</text></g>
<g id="n918" class="nd a"><circle cx="1038" cy="241" r="14"/><text x="1038" y="241">918</text></g>
<g id="n917" class="nd g"><circle cx="1077" cy="241" r="14"/><text x="1077" y="241">917</text></g>
<g id="n885" class="nd r"><circle cx="161" cy="277" r="14"/><text x="161" y="277">885</text></g>
<g id="n884" class="nd r"><circle cx="200" cy="278" r="14"/><text x="200" y="278">884</text></g>
<g id="n891" class="nd r"><circle cx="244" cy="275" r="14"/><text x="244" y="275">891</text></g>
<g id="n890" class="nd r"><circle cx="283" cy="275" r="14"/><text x="283" y="275">890</text></g>
<g id="n889" class="nd c"><circle cx="321" cy="275" r="14"/><text x="321" y="275">889</text></g>
<g id="n888" class="nd c"><circle cx="360" cy="275" r="14"/><text x="360" y="275">888</text></g>
<g id="n887" class="nd g"><circle cx="399" cy="275" r="14"/><text x="399" y="275">887</text></g>
<g id="n908" class="nd a"><circle cx="439" cy="275" r="14"/><text x="439" y="275">908</text></g>
<g id="n907" class="nd a"><circle cx="477" cy="275" r="14"/><text x="477" y="275">907</text></g>
<g id="n906" class="nd a"><circle cx="516" cy="275" r="14"/><text x="516" y="275">906</text></g>
<g id="n903" class="nd a"><circle cx="555" cy="275" r="14"/><text x="555" y="275">903</text></g>
<g id="n905" class="nd a"><circle cx="593" cy="275" r="14"/><text x="593" y="275">905</text></g>
<g id="n902" class="nd g"><circle cx="632" cy="275" r="14"/><text x="632" y="275">902</text></g>
<g id="n901" class="nd a"><circle cx="671" cy="275" r="14"/><text x="671" y="275">901</text></g>
<g id="n904" class="nd p"><circle cx="710" cy="275" r="14"/><text x="710" y="275">904</text></g>
<g id="n900" class="nd a"><circle cx="749" cy="275" r="14"/><text x="749" y="275">900</text></g>
<g id="n899" class="nd a"><circle cx="787" cy="275" r="14"/><text x="787" y="275">899</text></g>
<g id="n898" class="nd a"><circle cx="826" cy="275" r="14"/><text x="826" y="275">898</text></g>
<g id="n897" class="nd c"><circle cx="864" cy="275" r="14"/><text x="864" y="275">897</text></g>
<g id="n896" class="nd c"><circle cx="903" cy="275" r="14"/><text x="903" y="275">896</text></g>
<g id="n895" class="nd c"><circle cx="942" cy="275" r="14"/><text x="942" y="275">895</text></g>
<g id="n894" class="nd c"><circle cx="980" cy="275" r="14"/><text x="980" y="275">894</text></g>
<g id="n893" class="nd a"><circle cx="1018" cy="275" r="14"/><text x="1018" y="275">893</text></g>
<g id="n892" class="nd g"><circle cx="1057" cy="275" r="14"/><text x="1057" y="275">892</text></g>
<g id="n909" class="nd r"><circle cx="1096" cy="275" r="14"/><text x="1096" y="275">909</text></g>
<g id="n886" class="nd a"><circle cx="1138" cy="277" r="14"/><text x="1138" y="277">886</text></g>
<g id="n910" class="nd g"><circle cx="1176" cy="269" r="14"/><text x="1176" y="269">910</text></g>
<g id="n857" class="nd r"><circle cx="138" cy="308" r="14"/><text x="138" y="308">857</text></g>
<g id="n856" class="nd r"><circle cx="179" cy="312" r="14"/><text x="179" y="312">856</text></g>
<g id="n862" class="nd r"><circle cx="226" cy="308" r="14"/><text x="226" y="308">862</text></g>
<g id="n861" class="nd r"><circle cx="264" cy="308" r="14"/><text x="264" y="308">861</text></g>
<g id="n860" class="nd c"><circle cx="302" cy="308" r="14"/><text x="302" y="308">860</text></g>
<g id="n859" class="nd c"><circle cx="341" cy="308" r="14"/><text x="341" y="308">859</text></g>
<g id="n858" class="nd c"><circle cx="379" cy="308" r="14"/><text x="379" y="308">858</text></g>
<g id="n881" class="nd g"><circle cx="419" cy="308" r="14"/><text x="419" y="308">881</text></g>
<g id="n880" class="nd a"><circle cx="458" cy="308" r="14"/><text x="458" y="308">880</text></g>
<g id="n879" class="nd a"><circle cx="497" cy="308" r="14"/><text x="497" y="308">879</text></g>
<g id="n876" class="nd a"><circle cx="536" cy="308" r="14"/><text x="536" y="308">876</text></g>
<g id="n878" class="nd a"><circle cx="575" cy="308" r="14"/><text x="575" y="308">878</text></g>
<g id="n874" class="nd a"><circle cx="613" cy="308" r="14"/><text x="613" y="308">874</text></g>
<g id="n875" class="nd g"><circle cx="652" cy="308" r="14"/><text x="652" y="308">875</text></g>
<g id="n877" class="nd a"><circle cx="690" cy="308" r="14"/><text x="690" y="308">877</text></g>
<g id="n873" class="nd a"><circle cx="729" cy="308" r="14"/><text x="729" y="308">873</text></g>
<g id="n872" class="nd a"><circle cx="768" cy="308" r="14"/><text x="768" y="308">872</text></g>
<g id="n871" class="nd a"><circle cx="807" cy="308" r="14"/><text x="807" y="308">871</text></g>
<g id="n870" class="nd c"><circle cx="845" cy="308" r="14"/><text x="845" y="308">870</text></g>
<g id="n869" class="nd a"><circle cx="884" cy="308" r="14"/><text x="884" y="308">869</text></g>
<g id="n868" class="nd p"><circle cx="922" cy="308" r="14"/><text x="922" y="308">868</text></g>
<g id="n867" class="nd a"><circle cx="961" cy="308" r="14"/><text x="961" y="308">867</text></g>
<g id="n866" class="nd c"><circle cx="999" cy="308" r="14"/><text x="999" y="308">866</text></g>
<g id="n865" class="nd y"><circle cx="1038" cy="308" r="14"/><text x="1038" y="308">865</text></g>
<g id="n864" class="nd a"><circle cx="1077" cy="308" r="14"/><text x="1077" y="308">864</text></g>
<g id="n863" class="nd g"><circle cx="1115" cy="308" r="14"/><text x="1115" y="308">863</text></g>
<g id="n882" class="nd a"><circle cx="1163" cy="306" r="14"/><text x="1163" y="306">882</text></g>
<g id="n883" class="nd p"><circle cx="1201" cy="303" r="14"/><text x="1201" y="303">883</text></g>
<g id="n842" class="nd r"><circle cx="118" cy="341" r="14"/><text x="118" y="341">842</text></g>
<g id="n827" class="nd r"><circle cx="161" cy="345" r="14"/><text x="161" y="345">827</text></g>
<g id="n853" class="nd r"><circle cx="205" cy="341" r="14"/><text x="205" y="341">853</text></g>
<g id="n832" class="nd r"><circle cx="244" cy="341" r="14"/><text x="244" y="341">832</text></g>
<g id="n831" class="nd c"><circle cx="283" cy="341" r="14"/><text x="283" y="341">831</text></g>
<g id="n830" class="nd c"><circle cx="321" cy="341" r="14"/><text x="321" y="341">830</text></g>
<g id="n829" class="nd c"><circle cx="360" cy="341" r="14"/><text x="360" y="341">829</text></g>
<g id="n852" class="nd c"><circle cx="400" cy="341" r="14"/><text x="400" y="341">852</text></g>
<g id="n851" class="nd g"><circle cx="439" cy="341" r="14"/><text x="439" y="341">851</text></g>
<g id="n850" class="nd a"><circle cx="477" cy="341" r="14"/><text x="477" y="341">850</text></g>
<g id="n847" class="nd a"><circle cx="516" cy="341" r="14"/><text x="516" y="341">847</text></g>
<g id="n849" class="nd a"><circle cx="555" cy="341" r="14"/><text x="555" y="341">849</text></g>
<g id="n845" class="nd a"><circle cx="593" cy="341" r="14"/><text x="593" y="341">845</text></g>
<g id="n846" class="nd a"><circle cx="632" cy="341" r="14"/><text x="632" y="341">846</text></g>
<g id="n848" class="nd p"><circle cx="670" cy="341" r="14"/><text x="670" y="341">848</text></g>
<g id="n844" class="nd a"><circle cx="710" cy="341" r="14"/><text x="710" y="341">844</text></g>
<g id="n843" class="nd a"><circle cx="749" cy="341" r="14"/><text x="749" y="341">843</text></g>
<g id="n841" class="nd a"><circle cx="787" cy="341" r="14"/><text x="787" y="341">841</text></g>
<g id="n840" class="nd c"><circle cx="826" cy="341" r="14"/><text x="826" y="341">840</text></g>
<g id="n839" class="nd a"><circle cx="864" cy="341" r="14"/><text x="864" y="341">839</text></g>
<g id="n838" class="nd g"><circle cx="903" cy="341" r="14"/><text x="903" y="341">838</text></g>
<g id="n837" class="nd a"><circle cx="942" cy="341" r="14"/><text x="942" y="341">837</text></g>
<g id="n836" class="nd a"><circle cx="980" cy="341" r="14"/><text x="980" y="341">836</text></g>
<g id="n835" class="nd c"><circle cx="1018" cy="341" r="14"/><text x="1018" y="341">835</text></g>
<g id="n834" class="nd a"><circle cx="1057" cy="341" r="14"/><text x="1057" y="341">834</text></g>
<g id="n833" class="nd c"><circle cx="1096" cy="341" r="14"/><text x="1096" y="341">833</text></g>
<g id="n854" class="nd r"><circle cx="1137" cy="340" r="14"/><text x="1137" y="340">854</text></g>
<g id="n828" class="nd g"><circle cx="1175" cy="343" r="14"/><text x="1175" y="343">828</text></g>
<g id="n855" class="nd r"><circle cx="1222" cy="336" r="14"/><text x="1222" y="336">855</text></g>
<g id="n797" class="nd r"><circle cx="98" cy="376" r="14"/><text x="98" y="376">797</text></g>
<g id="n800" class="nd r"><circle cx="136" cy="374" r="14"/><text x="136" y="374">800</text></g>
<g id="n803" class="nd r"><circle cx="187" cy="374" r="14"/><text x="187" y="374">803</text></g>
<g id="n802" class="nd r"><circle cx="226" cy="374" r="14"/><text x="226" y="374">802</text></g>
<g id="n801" class="nd c"><circle cx="264" cy="374" r="14"/><text x="264" y="374">801</text></g>
<g id="n799" class="nd c"><circle cx="302" cy="374" r="14"/><text x="302" y="374">799</text></g>
<g id="n798" class="nd c"><circle cx="341" cy="374" r="14"/><text x="341" y="374">798</text></g>
<g id="n824" class="nd g"><circle cx="381" cy="374" r="14"/><text x="381" y="374">824</text></g>
<g id="n823" class="nd g"><circle cx="419" cy="374" r="14"/><text x="419" y="374">823</text></g>
<g id="n822" class="nd c"><circle cx="458" cy="374" r="14"/><text x="458" y="374">822</text></g>
<g id="n819" class="nd a"><circle cx="497" cy="374" r="14"/><text x="497" y="374">819</text></g>
<g id="n821" class="nd a"><circle cx="536" cy="374" r="14"/><text x="536" y="374">821</text></g>
<g id="n817" class="nd a"><circle cx="575" cy="374" r="14"/><text x="575" y="374">817</text></g>
<g id="n818" class="nd a"><circle cx="613" cy="374" r="14"/><text x="613" y="374">818</text></g>
<g id="n820" class="nd a"><circle cx="652" cy="374" r="14"/><text x="652" y="374">820</text></g>
<g id="n816" class="nd a"><circle cx="690" cy="374" r="14"/><text x="690" y="374">816</text></g>
<g id="n815" class="nd a"><circle cx="729" cy="374" r="14"/><text x="729" y="374">815</text></g>
<g id="n814" class="nd a"><circle cx="768" cy="374" r="14"/><text x="768" y="374">814</text></g>
<g id="n813" class="nd c"><circle cx="807" cy="374" r="14"/><text x="807" y="374">813</text></g>
<g id="n812" class="nd g"><circle cx="845" cy="374" r="14"/><text x="845" y="374">812</text></g>
<g id="n811" class="nd g"><circle cx="884" cy="374" r="14"/><text x="884" y="374">811</text></g>
<g id="n810" class="nd g"><circle cx="922" cy="374" r="14"/><text x="922" y="374">810</text></g>
<g id="n809" class="nd a"><circle cx="961" cy="374" r="14"/><text x="961" y="374">809</text></g>
<g id="n808" class="nd a"><circle cx="999" cy="374" r="14"/><text x="999" y="374">808</text></g>
<g id="n807" class="nd c"><circle cx="1038" cy="374" r="14"/><text x="1038" y="374">807</text></g>
<g id="n806" class="nd a"><circle cx="1077" cy="374" r="14"/><text x="1077" y="374">806</text></g>
<g id="n805" class="nd p"><circle cx="1115" cy="374" r="14"/><text x="1115" y="374">805</text></g>
<g id="n804" class="nd g"><circle cx="1154" cy="374" r="14"/><text x="1154" y="374">804</text></g>
<g id="n826" class="nd g"><circle cx="1203" cy="369" r="14"/><text x="1203" y="369">826</text></g>
<g id="n825" class="nd g"><circle cx="1242" cy="369" r="14"/><text x="1242" y="369">825</text></g>
<g id="n767" class="nd r"><circle cx="81" cy="411" r="14"/><text x="81" y="411">767</text></g>
<g id="n766" class="nd r"><circle cx="124" cy="411" r="14"/><text x="124" y="411">766</text></g>
<g id="n795" class="nd r"><circle cx="164" cy="406" r="14"/><text x="164" y="406">795</text></g>
<g id="n771" class="nd r"><circle cx="206" cy="409" r="14"/><text x="206" y="409">771</text></g>
<g id="n770" class="nd c"><circle cx="244" cy="408" r="14"/><text x="244" y="408">770</text></g>
<g id="n769" class="nd c"><circle cx="283" cy="408" r="14"/><text x="283" y="408">769</text></g>
<g id="n768" class="nd c"><circle cx="321" cy="408" r="14"/><text x="321" y="408">768</text></g>
<g id="n793" class="nd g"><circle cx="361" cy="408" r="14"/><text x="361" y="408">793</text></g>
<g id="n792" class="nd a"><circle cx="400" cy="408" r="14"/><text x="400" y="408">792</text></g>
<g id="n791" class="nd a"><circle cx="439" cy="408" r="14"/><text x="439" y="408">791</text></g>
<g id="n790" class="nd g"><circle cx="477" cy="408" r="14"/><text x="477" y="408">790</text></g>
<g id="n789" class="nd a"><circle cx="516" cy="408" r="14"/><text x="516" y="408">789</text></g>
<g id="n787" class="nd a"><circle cx="555" cy="408" r="14"/><text x="555" y="408">787</text></g>
<g id="n786" class="nd a"><circle cx="593" cy="408" r="14"/><text x="593" y="408">786</text></g>
<g id="n788" class="nd a"><circle cx="632" cy="408" r="14"/><text x="632" y="408">788</text></g>
<g id="n785" class="nd a"><circle cx="670" cy="408" r="14"/><text x="670" y="408">785</text></g>
<g id="n784" class="nd a"><circle cx="710" cy="408" r="14"/><text x="710" y="408">784</text></g>
<g id="n783" class="nd a"><circle cx="749" cy="408" r="14"/><text x="749" y="408">783</text></g>
<g id="n782" class="nd c"><circle cx="787" cy="408" r="14"/><text x="787" y="408">782</text></g>
<g id="n781" class="nd a"><circle cx="826" cy="408" r="14"/><text x="826" y="408">781</text></g>
<g id="n780" class="nd p"><circle cx="864" cy="408" r="14"/><text x="864" y="408">780</text></g>
<g id="n779" class="nd a"><circle cx="903" cy="408" r="14"/><text x="903" y="408">779</text></g>
<g id="n778" class="nd g"><circle cx="942" cy="408" r="14"/><text x="942" y="408">778</text></g>
<g id="n777" class="nd a"><circle cx="980" cy="408" r="14"/><text x="980" y="408">777</text></g>
<g id="n776" class="nd a"><circle cx="1018" cy="408" r="14"/><text x="1018" y="408">776</text></g>
<g id="n775" class="nd c"><circle cx="1057" cy="408" r="14"/><text x="1057" y="408">775</text></g>
<g id="n774" class="nd g"><circle cx="1096" cy="408" r="14"/><text x="1096" y="408">774</text></g>
<g id="n773" class="nd a"><circle cx="1135" cy="408" r="14"/><text x="1135" y="408">773</text></g>
<g id="n772" class="nd g"><circle cx="1173" cy="408" r="14"/><text x="1173" y="408">772</text></g>
<g id="n794" class="nd g"><circle cx="1212" cy="407" r="14"/><text x="1212" y="407">794</text></g>
<g id="n796" class="nd g"><circle cx="1259" cy="403" r="14"/><text x="1259" y="403">796</text></g>
<g id="n734" class="nd r"><circle cx="66" cy="447" r="14"/><text x="66" y="447">734</text></g>
<g id="n735" class="nd r"><circle cx="105" cy="445" r="14"/><text x="105" y="445">735</text></g>
<g id="n741" class="nd r"><circle cx="148" cy="441" r="14"/><text x="148" y="441">741</text></g>
<g id="n740" class="nd r"><circle cx="187" cy="441" r="14"/><text x="187" y="441">740</text></g>
<g id="n739" class="nd c"><circle cx="225" cy="441" r="14"/><text x="225" y="441">739</text></g>
<g id="n738" class="nd c"><circle cx="264" cy="441" r="14"/><text x="264" y="441">738</text></g>
<g id="n737" class="nd c"><circle cx="302" cy="441" r="14"/><text x="302" y="441">737</text></g>
<g id="n763" class="nd p"><circle cx="342" cy="441" r="14"/><text x="342" y="441">763</text></g>
<g id="n762" class="nd a"><circle cx="381" cy="441" r="14"/><text x="381" y="441">762</text></g>
<g id="n761" class="nd g"><circle cx="419" cy="441" r="14"/><text x="419" y="441">761</text></g>
<g id="n759" class="nd a"><circle cx="458" cy="441" r="14"/><text x="458" y="441">759</text></g>
<g id="n760" class="nd g"><circle cx="497" cy="441" r="14"/><text x="497" y="441">760</text></g>
<g id="n756" class="nd a"><circle cx="536" cy="441" r="14"/><text x="536" y="441">756</text></g>
<g id="n757" class="nd a"><circle cx="575" cy="441" r="14"/><text x="575" y="441">757</text></g>
<g id="n758" class="nd a"><circle cx="613" cy="441" r="14"/><text x="613" y="441">758</text></g>
<g id="n755" class="nd a"><circle cx="652" cy="441" r="14"/><text x="652" y="441">755</text></g>
<g id="n754" class="nd a"><circle cx="690" cy="441" r="14"/><text x="690" y="441">754</text></g>
<g id="n753" class="nd a"><circle cx="729" cy="441" r="14"/><text x="729" y="441">753</text></g>
<g id="n752" class="nd c"><circle cx="768" cy="441" r="14"/><text x="768" y="441">752</text></g>
<g id="n751" class="nd a"><circle cx="807" cy="441" r="14"/><text x="807" y="441">751</text></g>
<g id="n750" class="nd g"><circle cx="845" cy="441" r="14"/><text x="845" y="441">750</text></g>
<g id="n749" class="nd g"><circle cx="884" cy="441" r="14"/><text x="884" y="441">749</text></g>
<g id="n748" class="nd a"><circle cx="922" cy="441" r="14"/><text x="922" y="441">748</text></g>
<g id="n747" class="nd a"><circle cx="961" cy="441" r="14"/><text x="961" y="441">747</text></g>
<g id="n746" class="nd g"><circle cx="999" cy="441" r="14"/><text x="999" y="441">746</text></g>
<g id="n745" class="nd y"><circle cx="1038" cy="441" r="14"/><text x="1038" y="441">745</text></g>
<g id="n744" class="nd a"><circle cx="1077" cy="441" r="14"/><text x="1077" y="441">744</text></g>
<g id="n743" class="nd g"><circle cx="1115" cy="441" r="14"/><text x="1115" y="441">743</text></g>
<g id="n742" class="nd c"><circle cx="1154" cy="441" r="14"/><text x="1154" y="441">742</text></g>
<g id="n764" class="nd r"><circle cx="1193" cy="441" r="14"/><text x="1193" y="441">764</text></g>
<g id="n765" class="nd g"><circle cx="1237" cy="436" r="14"/><text x="1237" y="436">765</text></g>
<g id="n736" class="nd r"><circle cx="1275" cy="443" r="14"/><text x="1275" y="443">736</text></g>
<g id="n702" class="nd r"><circle cx="80" cy="483" r="14"/><text x="80" y="483">702</text></g>
<g id="n708" class="nd r"><circle cx="129" cy="476" r="14"/><text x="129" y="476">708</text></g>
<g id="n707" class="nd p"><circle cx="167" cy="475" r="14"/><text x="167" y="475">707</text></g>
<g id="n706" class="nd c"><circle cx="206" cy="475" r="14"/><text x="206" y="475">706</text></g>
<g id="n705" class="nd c"><circle cx="244" cy="475" r="14"/><text x="244" y="475">705</text></g>
<g id="n704" class="nd c"><circle cx="283" cy="475" r="14"/><text x="283" y="475">704</text></g>
<g id="n732" class="nd p"><circle cx="323" cy="475" r="14"/><text x="323" y="475">732</text></g>
<g id="n731" class="nd g"><circle cx="361" cy="475" r="14"/><text x="361" y="475">731</text></g>
<g id="n730" class="nd g"><circle cx="400" cy="475" r="14"/><text x="400" y="475">730</text></g>
<g id="n728" class="nd g"><circle cx="439" cy="475" r="14"/><text x="439" y="475">728</text></g>
<g id="n729" class="nd a"><circle cx="477" cy="475" r="14"/><text x="477" y="475">729</text></g>
<g id="n727" class="nd a"><circle cx="516" cy="475" r="14"/><text x="516" y="475">727</text></g>
<g id="n725" class="nd a"><circle cx="555" cy="475" r="14"/><text x="555" y="475">725</text></g>
<g id="n726" class="nd a"><circle cx="593" cy="475" r="14"/><text x="593" y="475">726</text></g>
<g id="n724" class="nd a"><circle cx="632" cy="475" r="14"/><text x="632" y="475">724</text></g>
<g id="n723" class="nd a"><circle cx="670" cy="475" r="14"/><text x="670" y="475">723</text></g>
<g id="n722" class="nd a"><circle cx="710" cy="475" r="14"/><text x="710" y="475">722</text></g>
<g id="n721" class="nd c"><circle cx="749" cy="475" r="14"/><text x="749" y="475">721</text></g>
<g id="n720" class="nd a"><circle cx="787" cy="475" r="14"/><text x="787" y="475">720</text></g>
<g id="n719" class="nd g"><circle cx="826" cy="475" r="14"/><text x="826" y="475">719</text></g>
<g id="n718" class="nd a"><circle cx="864" cy="475" r="14"/><text x="864" y="475">718</text></g>
<g id="n717" class="nd c"><circle cx="903" cy="475" r="14"/><text x="903" y="475">717</text></g>
<g id="n716" class="nd y"><circle cx="942" cy="475" r="14"/><text x="942" y="475">716</text></g>
<g id="n715" class="nd a"><circle cx="980" cy="475" r="14"/><text x="980" y="475">715</text></g>
<g id="n714" class="nd y"><circle cx="1018" cy="475" r="14"/><text x="1018" y="475">714</text></g>
<g id="n713" class="nd a"><circle cx="1057" cy="475" r="14"/><text x="1057" y="475">713</text></g>
<g id="n712" class="nd a"><circle cx="1096" cy="475" r="14"/><text x="1096" y="475">712</text></g>
<g id="n711" class="nd a"><circle cx="1135" cy="475" r="14"/><text x="1135" y="475">711</text></g>
<g id="n710" class="nd a"><circle cx="1173" cy="475" r="14"/><text x="1173" y="475">710</text></g>
<g id="n709" class="nd g"><circle cx="1212" cy="475" r="14"/><text x="1212" y="475">709</text></g>
<g id="n733" class="nd g"><circle cx="1250" cy="473" r="14"/><text x="1250" y="473">733</text></g>
<g id="n703" class="nd g"><circle cx="1288" cy="478" r="14"/><text x="1288" y="478">703</text></g>
<g id="n701" class="nd r"><circle cx="48" cy="503" r="14"/><text x="48" y="503">701</text></g>
<g id="n675" class="nd r"><circle cx="109" cy="509" r="14"/><text x="109" y="509">675</text></g>
<g id="n674" class="nd r"><circle cx="148" cy="509" r="14"/><text x="148" y="509">674</text></g>
<g id="n673" class="nd g"><circle cx="187" cy="509" r="14"/><text x="187" y="509">673</text></g>
<g id="n672" class="nd c"><circle cx="225" cy="509" r="14"/><text x="225" y="509">672</text></g>
<g id="n671" class="nd c"><circle cx="264" cy="509" r="14"/><text x="264" y="509">671</text></g>
<g id="n699" class="nd p"><circle cx="304" cy="508" r="14"/><text x="304" y="508">699</text></g>
<g id="n698" class="nd a"><circle cx="342" cy="509" r="14"/><text x="342" y="509">698</text></g>
<g id="n697" class="nd g"><circle cx="381" cy="509" r="14"/><text x="381" y="509">697</text></g>
<g id="n695" class="nd g"><circle cx="419" cy="509" r="14"/><text x="419" y="509">695</text></g>
<g id="n696" class="nd g"><circle cx="458" cy="509" r="14"/><text x="458" y="509">696</text></g>
<g id="n693" class="nd c"><circle cx="497" cy="509" r="14"/><text x="497" y="509">693</text></g>
<g id="n694" class="nd g"><circle cx="536" cy="509" r="14"/><text x="536" y="509">694</text></g>
<g id="n692" class="nd a"><circle cx="575" cy="509" r="14"/><text x="575" y="509">692</text></g>
<g id="n691" class="nd a"><circle cx="613" cy="509" r="14"/><text x="613" y="509">691</text></g>
<g id="n690" class="nd a"><circle cx="652" cy="509" r="14"/><text x="652" y="509">690</text></g>
<g id="n689" class="nd a"><circle cx="690" cy="509" r="14"/><text x="690" y="509">689</text></g>
<g id="n688" class="nd c"><circle cx="729" cy="509" r="14"/><text x="729" y="509">688</text></g>
<g id="n687" class="nd a"><circle cx="768" cy="509" r="14"/><text x="768" y="509">687</text></g>
<g id="n686" class="nd c"><circle cx="807" cy="509" r="14"/><text x="807" y="509">686</text></g>
<g id="n685" class="nd g"><circle cx="845" cy="509" r="14"/><text x="845" y="509">685</text></g>
<g id="n684" class="nd a"><circle cx="884" cy="509" r="14"/><text x="884" y="509">684</text></g>
<g id="n683" class="nd c"><circle cx="922" cy="509" r="14"/><text x="922" y="509">683</text></g>
<g id="n682" class="nd g"><circle cx="961" cy="509" r="14"/><text x="961" y="509">682</text></g>
<g id="n681" class="nd c"><circle cx="999" cy="509" r="14"/><text x="999" y="509">681</text></g>
<g id="n680" class="nd c"><circle cx="1038" cy="509" r="14"/><text x="1038" y="509">680</text></g>
<g id="n679" class="nd c"><circle cx="1077" cy="509" r="14"/><text x="1077" y="509">679</text></g>
<g id="n678" class="nd c"><circle cx="1115" cy="509" r="14"/><text x="1115" y="509">678</text></g>
<g id="n677" class="nd p"><circle cx="1154" cy="509" r="14"/><text x="1154" y="509">677</text></g>
<g id="n676" class="nd c"><circle cx="1193" cy="509" r="14"/><text x="1193" y="509">676</text></g>
<g id="n700" class="nd r"><circle cx="1232" cy="508" r="14"/><text x="1232" y="508">700</text></g>
<g id="n670" class="nd g"><circle cx="1279" cy="517" r="14"/><text x="1279" y="517">670</text></g>
<g id="n638" class="nd r"><circle cx="51" cy="543" r="14"/><text x="51" y="543">638</text></g>
<g id="n655" class="nd r"><circle cx="89" cy="542" r="14"/><text x="89" y="542">655</text></g>
<g id="n643" class="nd r"><circle cx="129" cy="543" r="14"/><text x="129" y="543">643</text></g>
<g id="n641" class="nd c"><circle cx="167" cy="542" r="14"/><text x="167" y="542">641</text></g>
<g id="n640" class="nd c"><circle cx="206" cy="542" r="14"/><text x="206" y="542">640</text></g>
<g id="n639" class="nd c"><circle cx="244" cy="542" r="14"/><text x="244" y="542">639</text></g>
<g id="n669" class="nd r"><circle cx="284" cy="542" r="14"/><text x="284" y="542">669</text></g>
<g id="n668" class="nd a"><circle cx="323" cy="542" r="14"/><text x="323" y="542">668</text></g>
<g id="n667" class="nd g"><circle cx="361" cy="542" r="14"/><text x="361" y="542">667</text></g>
<g id="n665" class="nd g"><circle cx="400" cy="542" r="14"/><text x="400" y="542">665</text></g>
<g id="n666" class="nd g"><circle cx="439" cy="542" r="14"/><text x="439" y="542">666</text></g>
<g id="n663" class="nd c"><circle cx="477" cy="542" r="14"/><text x="477" y="542">663</text></g>
<g id="n662" class="nd g"><circle cx="516" cy="542" r="14"/><text x="516" y="542">662</text></g>
<g id="n664" class="nd c"><circle cx="555" cy="542" r="14"/><text x="555" y="542">664</text></g>
<g id="n661" class="nd a"><circle cx="593" cy="542" r="14"/><text x="593" y="542">661</text></g>
<g id="n660" class="nd a"><circle cx="632" cy="542" r="14"/><text x="632" y="542">660</text></g>
<g id="n659" class="nd a"><circle cx="670" cy="542" r="14"/><text x="670" y="542">659</text></g>
<g id="n658" class="nd c"><circle cx="710" cy="542" r="14"/><text x="710" y="542">658</text></g>
<g id="n657" class="nd a"><circle cx="749" cy="542" r="14"/><text x="749" y="542">657</text></g>
<g id="n656" class="nd c"><circle cx="787" cy="542" r="14"/><text x="787" y="542">656</text></g>
<g id="n654" class="nd a"><circle cx="826" cy="542" r="14"/><text x="826" y="542">654</text></g>
<g id="n653" class="nd g"><circle cx="864" cy="542" r="14"/><text x="864" y="542">653</text></g>
<g id="n652" class="nd a"><circle cx="903" cy="542" r="14"/><text x="903" y="542">652</text></g>
<g id="n651" class="nd r"><circle cx="942" cy="542" r="14"/><text x="942" y="542">651</text></g>
<g id="n650" class="nd a"><circle cx="980" cy="542" r="14"/><text x="980" y="542">650</text></g>
<g id="n649" class="nd a"><circle cx="1018" cy="542" r="14"/><text x="1018" y="542">649</text></g>
<g id="n648" class="nd a"><circle cx="1057" cy="542" r="14"/><text x="1057" y="542">648</text></g>
<g id="n647" class="nd a"><circle cx="1096" cy="542" r="14"/><text x="1096" y="542">647</text></g>
<g id="n646" class="nd c"><circle cx="1135" cy="542" r="14"/><text x="1135" y="542">646</text></g>
<g id="n645" class="nd a"><circle cx="1173" cy="542" r="14"/><text x="1173" y="542">645</text></g>
<g id="n644" class="nd c"><circle cx="1212" cy="542" r="14"/><text x="1212" y="542">644</text></g>
<g id="n642" class="nd g"><circle cx="1250" cy="542" r="14"/><text x="1250" y="542">642</text></g>
<g id="n637" class="nd g"><circle cx="1305" cy="545" r="14"/><text x="1305" y="545">637</text></g>
<g id="n604" class="nd c"><circle cx="32" cy="577" r="14"/><text x="32" y="577">604</text></g>
<g id="n610" class="nd r"><circle cx="70" cy="576" r="14"/><text x="70" y="576">610</text></g>
<g id="n609" class="nd p"><circle cx="109" cy="576" r="14"/><text x="109" y="576">609</text></g>
<g id="n607" class="nd c"><circle cx="148" cy="576" r="14"/><text x="148" y="576">607</text></g>
<g id="n606" class="nd c"><circle cx="187" cy="576" r="14"/><text x="187" y="576">606</text></g>
<g id="n605" class="nd c"><circle cx="225" cy="576" r="14"/><text x="225" y="576">605</text></g>
<g id="n636" class="nd p"><circle cx="265" cy="576" r="14"/><text x="265" y="576">636</text></g>
<g id="n635" class="nd g"><circle cx="304" cy="576" r="14"/><text x="304" y="576">635</text></g>
<g id="n634" class="nd g"><circle cx="342" cy="576" r="14"/><text x="342" y="576">634</text></g>
<g id="n632" class="nd g"><circle cx="381" cy="576" r="14"/><text x="381" y="576">632</text></g>
<g id="n633" class="nd g"><circle cx="419" cy="576" r="14"/><text x="419" y="576">633</text></g>
<g id="n631" class="nd c"><circle cx="458" cy="576" r="14"/><text x="458" y="576">631</text></g>
<g id="n629" class="nd c"><circle cx="497" cy="576" r="14"/><text x="497" y="576">629</text></g>
<g id="n630" class="nd a"><circle cx="536" cy="576" r="14"/><text x="536" y="576">630</text></g>
<g id="n628" class="nd a"><circle cx="575" cy="576" r="14"/><text x="575" y="576">628</text></g>
<g id="n627" class="nd a"><circle cx="613" cy="576" r="14"/><text x="613" y="576">627</text></g>
<g id="n626" class="nd a"><circle cx="652" cy="576" r="14"/><text x="652" y="576">626</text></g>
<g id="n624" class="nd c"><circle cx="690" cy="576" r="14"/><text x="690" y="576">624</text></g>
<g id="n623" class="nd a"><circle cx="729" cy="576" r="14"/><text x="729" y="576">623</text></g>
<g id="n622" class="nd c"><circle cx="768" cy="576" r="14"/><text x="768" y="576">622</text></g>
<g id="n621" class="nd g"><circle cx="807" cy="576" r="14"/><text x="807" y="576">621</text></g>
<g id="n620" class="nd a"><circle cx="845" cy="576" r="14"/><text x="845" y="576">620</text></g>
<g id="n619" class="nd g"><circle cx="884" cy="576" r="14"/><text x="884" y="576">619</text></g>
<g id="n618" class="nd a"><circle cx="922" cy="576" r="14"/><text x="922" y="576">618</text></g>
<g id="n617" class="nd a"><circle cx="961" cy="576" r="14"/><text x="961" y="576">617</text></g>
<g id="n616" class="nd a"><circle cx="999" cy="576" r="14"/><text x="999" y="576">616</text></g>
<g id="n615" class="nd a"><circle cx="1038" cy="576" r="14"/><text x="1038" y="576">615</text></g>
<g id="n614" class="nd a"><circle cx="1077" cy="576" r="14"/><text x="1077" y="576">614</text></g>
<g id="n613" class="nd g"><circle cx="1115" cy="576" r="14"/><text x="1115" y="576">613</text></g>
<g id="n612" class="nd a"><circle cx="1154" cy="576" r="14"/><text x="1154" y="576">612</text></g>
<g id="n611" class="nd c"><circle cx="1193" cy="576" r="14"/><text x="1193" y="576">611</text></g>
<g id="n608" class="nd a"><circle cx="1231" cy="576" r="14"/><text x="1231" y="576">608</text></g>
<g id="n625" class="nd r"><circle cx="1273" cy="576" r="14"/><text x="1273" y="576">625</text></g>
<g id="n603" class="nd g"><circle cx="1312" cy="583" r="14"/><text x="1312" y="583">603</text></g>
<g id="n571" class="nd g"><circle cx="51" cy="609" r="14"/><text x="51" y="609">571</text></g>
<g id="n577" class="nd g"><circle cx="90" cy="609" r="14"/><text x="90" y="609">577</text></g>
<g id="n575" class="nd c"><circle cx="129" cy="609" r="14"/><text x="129" y="609">575</text></g>
<g id="n573" class="nd c"><circle cx="167" cy="609" r="14"/><text x="167" y="609">573</text></g>
<g id="n572" class="nd c"><circle cx="206" cy="609" r="14"/><text x="206" y="609">572</text></g>
<g id="n602" class="nd c"><circle cx="245" cy="609" r="14"/><text x="245" y="609">602</text></g>
<g id="n601" class="nd g"><circle cx="284" cy="609" r="14"/><text x="284" y="609">601</text></g>
<g id="n600" class="nd g"><circle cx="323" cy="609" r="14"/><text x="323" y="609">600</text></g>
<g id="n598" class="nd g"><circle cx="361" cy="609" r="14"/><text x="361" y="609">598</text></g>
<g id="n599" class="nd g"><circle cx="400" cy="609" r="14"/><text x="400" y="609">599</text></g>
<g id="n596" class="nd c"><circle cx="439" cy="609" r="14"/><text x="439" y="609">596</text></g>
<g id="n595" class="nd c"><circle cx="477" cy="609" r="14"/><text x="477" y="609">595</text></g>
<g id="n597" class="nd c"><circle cx="516" cy="609" r="14"/><text x="516" y="609">597</text></g>
<g id="n594" class="nd g"><circle cx="555" cy="609" r="14"/><text x="555" y="609">594</text></g>
<g id="n593" class="nd g"><circle cx="593" cy="609" r="14"/><text x="593" y="609">593</text></g>
<g id="n592" class="nd a"><circle cx="632" cy="609" r="14"/><text x="632" y="609">592</text></g>
<g id="n591" class="nd g"><circle cx="670" cy="609" r="14"/><text x="670" y="609">591</text></g>
<g id="n590" class="nd a"><circle cx="710" cy="609" r="14"/><text x="710" y="609">590</text></g>
<g id="n589" class="nd c"><circle cx="749" cy="609" r="14"/><text x="749" y="609">589</text></g>
<g id="n588" class="nd y"><circle cx="787" cy="609" r="14"/><text x="787" y="609">588</text></g>
<g id="n587" class="nd a"><circle cx="826" cy="609" r="14"/><text x="826" y="609">587</text></g>
<g id="n586" class="nd y"><circle cx="864" cy="609" r="14"/><text x="864" y="609">586</text></g>
<g id="n585" class="nd g"><circle cx="903" cy="609" r="14"/><text x="903" y="609">585</text></g>
<g id="n584" class="nd y"><circle cx="942" cy="609" r="14"/><text x="942" y="609">584</text></g>
<g id="n583" class="nd a"><circle cx="980" cy="609" r="14"/><text x="980" y="609">583</text></g>
<g id="n582" class="nd a"><circle cx="1018" cy="609" r="14"/><text x="1018" y="609">582</text></g>
<g id="n581" class="nd a"><circle cx="1057" cy="609" r="14"/><text x="1057" y="609">581</text></g>
<g id="n580" class="nd g"><circle cx="1096" cy="609" r="14"/><text x="1096" y="609">580</text></g>
<g id="n579" class="nd a"><circle cx="1135" cy="609" r="14"/><text x="1135" y="609">579</text></g>
<g id="n578" class="nd c"><circle cx="1173" cy="609" r="14"/><text x="1173" y="609">578</text></g>
<g id="n576" class="nd a"><circle cx="1212" cy="609" r="14"/><text x="1212" y="609">576</text></g>
<g id="n574" class="nd g"><circle cx="1250" cy="609" r="14"/><text x="1250" y="609">574</text></g>
<g id="n570" class="nd a"><circle cx="1288" cy="613" r="14"/><text x="1288" y="613">570</text></g>
<g id="n569" class="nd g"><circle cx="25" cy="638" r="14"/><text x="25" y="638">569</text></g>
<g id="n537" class="nd r"><circle cx="64" cy="646" r="14"/><text x="64" y="646">537</text></g>
<g id="n541" class="nd g"><circle cx="109" cy="642" r="14"/><text x="109" y="642">541</text></g>
<g id="n539" class="nd g"><circle cx="148" cy="642" r="14"/><text x="148" y="642">539</text></g>
<g id="n538" class="nd g"><circle cx="187" cy="642" r="14"/><text x="187" y="642">538</text></g>
<g id="n567" class="nd g"><circle cx="226" cy="642" r="14"/><text x="226" y="642">567</text></g>
<g id="n566" class="nd a"><circle cx="265" cy="642" r="14"/><text x="265" y="642">566</text></g>
<g id="n565" class="nd g"><circle cx="304" cy="642" r="14"/><text x="304" y="642">565</text></g>
<g id="n563" class="nd g"><circle cx="342" cy="642" r="14"/><text x="342" y="642">563</text></g>
<g id="n564" class="nd g"><circle cx="381" cy="642" r="14"/><text x="381" y="642">564</text></g>
<g id="n562" class="nd c"><circle cx="419" cy="642" r="14"/><text x="419" y="642">562</text></g>
<g id="n560" class="nd g"><circle cx="458" cy="642" r="14"/><text x="458" y="642">560</text></g>
<g id="n561" class="nd p"><circle cx="497" cy="642" r="14"/><text x="497" y="642">561</text></g>
<g id="n559" class="nd g"><circle cx="536" cy="642" r="14"/><text x="536" y="642">559</text></g>
<g id="n558" class="nd a"><circle cx="575" cy="642" r="14"/><text x="575" y="642">558</text></g>
<g id="n557" class="nd g"><circle cx="613" cy="642" r="14"/><text x="613" y="642">557</text></g>
<g id="n556" class="nd a"><circle cx="652" cy="642" r="14"/><text x="652" y="642">556</text></g>
<g id="n555" class="nd a"><circle cx="690" cy="642" r="14"/><text x="690" y="642">555</text></g>
<g id="n554" class="nd c"><circle cx="729" cy="642" r="14"/><text x="729" y="642">554</text></g>
<g id="n553" class="nd a"><circle cx="768" cy="642" r="14"/><text x="768" y="642">553</text></g>
<g id="n552" class="nd a"><circle cx="807" cy="642" r="14"/><text x="807" y="642">552</text></g>
<g id="n551" class="nd g"><circle cx="845" cy="642" r="14"/><text x="845" y="642">551</text></g>
<g id="n550" class="nd g"><circle cx="884" cy="642" r="14"/><text x="884" y="642">550</text></g>
<g id="n549" class="nd c"><circle cx="922" cy="642" r="14"/><text x="922" y="642">549</text></g>
<g id="n548" class="nd c"><circle cx="961" cy="642" r="14"/><text x="961" y="642">548</text></g>
<g id="n547" class="nd c"><circle cx="999" cy="642" r="14"/><text x="999" y="642">547</text></g>
<g id="n546" class="nd c"><circle cx="1038" cy="642" r="14"/><text x="1038" y="642">546</text></g>
<g id="n545" class="nd r"><circle cx="1077" cy="642" r="14"/><text x="1077" y="642">545</text></g>
<g id="n544" class="nd c"><circle cx="1115" cy="642" r="14"/><text x="1115" y="642">544</text></g>
<g id="n543" class="nd r"><circle cx="1154" cy="642" r="14"/><text x="1154" y="642">543</text></g>
<g id="n542" class="nd c"><circle cx="1193" cy="642" r="14"/><text x="1193" y="642">542</text></g>
<g id="n540" class="nd r"><circle cx="1231" cy="642" r="14"/><text x="1231" y="642">540</text></g>
<g id="n536" class="nd g"><circle cx="1279" cy="651" r="14"/><text x="1279" y="651">536</text></g>
<g id="n568" class="nd g"><circle cx="1318" cy="638" r="14"/><text x="1318" y="638">568</text></g>
<g id="n535" class="nd c"><circle cx="37" cy="676" r="14"/><text x="37" y="676">535</text></g>
<g id="n507" class="nd a"><circle cx="90" cy="676" r="14"/><text x="90" y="676">507</text></g>
<g id="n505" class="nd y"><circle cx="129" cy="676" r="14"/><text x="129" y="676">505</text></g>
<g id="n504" class="nd a"><circle cx="167" cy="676" r="14"/><text x="167" y="676">504</text></g>
<g id="n534" class="nd c"><circle cx="207" cy="676" r="14"/><text x="207" y="676">534</text></g>
<g id="n532" class="nd c"><circle cx="245" cy="676" r="14"/><text x="245" y="676">532</text></g>
<g id="n531" class="nd a"><circle cx="284" cy="676" r="14"/><text x="284" y="676">531</text></g>
<g id="n530" class="nd a"><circle cx="323" cy="676" r="14"/><text x="323" y="676">530</text></g>
<g id="n533" class="nd g"><circle cx="361" cy="676" r="14"/><text x="361" y="676">533</text></g>
<g id="n529" class="nd c"><circle cx="400" cy="676" r="14"/><text x="400" y="676">529</text></g>
<g id="n527" class="nd g"><circle cx="439" cy="676" r="14"/><text x="439" y="676">527</text></g>
<g id="n528" class="nd c"><circle cx="477" cy="676" r="14"/><text x="477" y="676">528</text></g>
<g id="n526" class="nd a"><circle cx="516" cy="676" r="14"/><text x="516" y="676">526</text></g>
<g id="n525" class="nd g"><circle cx="555" cy="676" r="14"/><text x="555" y="676">525</text></g>
<g id="n524" class="nd g"><circle cx="593" cy="676" r="14"/><text x="593" y="676">524</text></g>
<g id="n523" class="nd g"><circle cx="632" cy="676" r="14"/><text x="632" y="676">523</text></g>
<g id="n522" class="nd a"><circle cx="670" cy="676" r="14"/><text x="670" y="676">522</text></g>
<g id="n521" class="nd g"><circle cx="710" cy="676" r="14"/><text x="710" y="676">521</text></g>
<g id="n520" class="nd a"><circle cx="749" cy="676" r="14"/><text x="749" y="676">520</text></g>
<g id="n519" class="nd a"><circle cx="787" cy="676" r="14"/><text x="787" y="676">519</text></g>
<g id="n518" class="nd a"><circle cx="826" cy="676" r="14"/><text x="826" y="676">518</text></g>
<g id="n517" class="nd c"><circle cx="864" cy="676" r="14"/><text x="864" y="676">517</text></g>
<g id="n516" class="nd y"><circle cx="903" cy="676" r="14"/><text x="903" y="676">516</text></g>
<g id="n515" class="nd a"><circle cx="942" cy="676" r="14"/><text x="942" y="676">515</text></g>
<g id="n514" class="nd a"><circle cx="980" cy="676" r="14"/><text x="980" y="676">514</text></g>
<g id="n513" class="nd a"><circle cx="1018" cy="676" r="14"/><text x="1018" y="676">513</text></g>
<g id="n512" class="nd c"><circle cx="1057" cy="676" r="14"/><text x="1057" y="676">512</text></g>
<g id="n511" class="nd a"><circle cx="1096" cy="676" r="14"/><text x="1096" y="676">511</text></g>
<g id="n510" class="nd c"><circle cx="1135" cy="676" r="14"/><text x="1135" y="676">510</text></g>
<g id="n509" class="nd a"><circle cx="1173" cy="676" r="14"/><text x="1173" y="676">509</text></g>
<g id="n508" class="nd c"><circle cx="1212" cy="676" r="14"/><text x="1212" y="676">508</text></g>
<g id="n506" class="nd g"><circle cx="1250" cy="676" r="14"/><text x="1250" y="676">506</text></g>
<g id="n503" class="nd g"><circle cx="1309" cy="676" r="14"/><text x="1309" y="676">503</text></g>
<g id="n470" class="nd g"><circle cx="25" cy="712" r="14"/><text x="25" y="712">470</text></g>
<g id="n501" class="nd a"><circle cx="63" cy="703" r="14"/><text x="63" y="703">501</text></g>
<g id="n472" class="nd g"><circle cx="109" cy="709" r="14"/><text x="109" y="709">472</text></g>
<g id="n471" class="nd a"><circle cx="148" cy="709" r="14"/><text x="148" y="709">471</text></g>
<g id="n499" class="nd y"><circle cx="187" cy="709" r="14"/><text x="187" y="709">499</text></g>
<g id="n495" class="nd y"><circle cx="226" cy="709" r="14"/><text x="226" y="709">495</text></g>
<g id="n498" class="nd a"><circle cx="265" cy="709" r="14"/><text x="265" y="709">498</text></g>
<g id="n494" class="nd a"><circle cx="304" cy="709" r="14"/><text x="304" y="709">494</text></g>
<g id="n500" class="nd a"><circle cx="342" cy="709" r="14"/><text x="342" y="709">500</text></g>
<g id="n497" class="nd g"><circle cx="381" cy="709" r="14"/><text x="381" y="709">497</text></g>
<g id="n496" class="nd c"><circle cx="419" cy="709" r="14"/><text x="419" y="709">496</text></g>
<g id="n493" class="nd g"><circle cx="458" cy="709" r="14"/><text x="458" y="709">493</text></g>
<g id="n492" class="nd a"><circle cx="497" cy="709" r="14"/><text x="497" y="709">492</text></g>
<g id="n491" class="nd g"><circle cx="536" cy="709" r="14"/><text x="536" y="709">491</text></g>
<g id="n490" class="nd c"><circle cx="575" cy="709" r="14"/><text x="575" y="709">490</text></g>
<g id="n489" class="nd p"><circle cx="613" cy="709" r="14"/><text x="613" y="709">489</text></g>
<g id="n488" class="nd c"><circle cx="652" cy="709" r="14"/><text x="652" y="709">488</text></g>
<g id="n487" class="nd a"><circle cx="690" cy="709" r="14"/><text x="690" y="709">487</text></g>
<g id="n486" class="nd a"><circle cx="729" cy="709" r="14"/><text x="729" y="709">486</text></g>
<g id="n485" class="nd a"><circle cx="768" cy="709" r="14"/><text x="768" y="709">485</text></g>
<g id="n484" class="nd a"><circle cx="807" cy="709" r="14"/><text x="807" y="709">484</text></g>
<g id="n483" class="nd r"><circle cx="845" cy="709" r="14"/><text x="845" y="709">483</text></g>
<g id="n482" class="nd c"><circle cx="884" cy="709" r="14"/><text x="884" y="709">482</text></g>
<g id="n481" class="nd g"><circle cx="922" cy="709" r="14"/><text x="922" y="709">481</text></g>
<g id="n480" class="nd a"><circle cx="961" cy="709" r="14"/><text x="961" y="709">480</text></g>
<g id="n479" class="nd a"><circle cx="999" cy="709" r="14"/><text x="999" y="709">479</text></g>
<g id="n478" class="nd p"><circle cx="1038" cy="709" r="14"/><text x="1038" y="709">478</text></g>
<g id="n477" class="nd c"><circle cx="1077" cy="709" r="14"/><text x="1077" y="709">477</text></g>
<g id="n476" class="nd r"><circle cx="1115" cy="709" r="14"/><text x="1115" y="709">476</text></g>
<g id="n475" class="nd c"><circle cx="1154" cy="709" r="14"/><text x="1154" y="709">475</text></g>
<g id="n474" class="nd p"><circle cx="1193" cy="709" r="14"/><text x="1193" y="709">474</text></g>
<g id="n473" class="nd c"><circle cx="1231" cy="709" r="14"/><text x="1231" y="709">473</text></g>
<g id="n502" class="nd r"><circle cx="1279" cy="702" r="14"/><text x="1279" y="702">502</text></g>
<g id="n469" class="nd g"><circle cx="1318" cy="713" r="14"/><text x="1318" y="713">469</text></g>
<g id="n467" class="nd a"><circle cx="51" cy="741" r="14"/><text x="51" y="741">467</text></g>
<g id="n437" class="nd a"><circle cx="90" cy="742" r="14"/><text x="90" y="742">437</text></g>
<g id="n436" class="nd a"><circle cx="129" cy="742" r="14"/><text x="129" y="742">436</text></g>
<g id="n466" class="nd g"><circle cx="168" cy="742" r="14"/><text x="168" y="742">466</text></g>
<g id="n463" class="nd a"><circle cx="207" cy="742" r="14"/><text x="207" y="742">463</text></g>
<g id="n462" class="nd y"><circle cx="245" cy="742" r="14"/><text x="245" y="742">462</text></g>
<g id="n459" class="nd g"><circle cx="284" cy="742" r="14"/><text x="284" y="742">459</text></g>
<g id="n465" class="nd a"><circle cx="323" cy="742" r="14"/><text x="323" y="742">465</text></g>
<g id="n461" class="nd g"><circle cx="361" cy="742" r="14"/><text x="361" y="742">461</text></g>
<g id="n460" class="nd g"><circle cx="400" cy="742" r="14"/><text x="400" y="742">460</text></g>
<g id="n464" class="nd p"><circle cx="439" cy="742" r="14"/><text x="439" y="742">464</text></g>
<g id="n458" class="nd g"><circle cx="477" cy="742" r="14"/><text x="477" y="742">458</text></g>
<g id="n457" class="nd a"><circle cx="516" cy="742" r="14"/><text x="516" y="742">457</text></g>
<g id="n456" class="nd g"><circle cx="555" cy="742" r="14"/><text x="555" y="742">456</text></g>
<g id="n455" class="nd r"><circle cx="593" cy="742" r="14"/><text x="593" y="742">455</text></g>
<g id="n454" class="nd g"><circle cx="632" cy="742" r="14"/><text x="632" y="742">454</text></g>
<g id="n453" class="nd c"><circle cx="670" cy="742" r="14"/><text x="670" y="742">453</text></g>
<g id="n452" class="nd g"><circle cx="710" cy="742" r="14"/><text x="710" y="742">452</text></g>
<g id="n451" class="nd a"><circle cx="749" cy="742" r="14"/><text x="749" y="742">451</text></g>
<g id="n450" class="nd a"><circle cx="787" cy="742" r="14"/><text x="787" y="742">450</text></g>
<g id="n449" class="nd c"><circle cx="826" cy="742" r="14"/><text x="826" y="742">449</text></g>
<g id="n448" class="nd c"><circle cx="864" cy="742" r="14"/><text x="864" y="742">448</text></g>
<g id="n447" class="nd c"><circle cx="903" cy="742" r="14"/><text x="903" y="742">447</text></g>
<g id="n446" class="nd y"><circle cx="942" cy="742" r="14"/><text x="942" y="742">446</text></g>
<g id="n445" class="nd a"><circle cx="980" cy="742" r="14"/><text x="980" y="742">445</text></g>
<g id="n444" class="nd y"><circle cx="1018" cy="742" r="14"/><text x="1018" y="742">444</text></g>
<g id="n443" class="nd a"><circle cx="1057" cy="742" r="14"/><text x="1057" y="742">443</text></g>
<g id="n442" class="nd c"><circle cx="1096" cy="742" r="14"/><text x="1096" y="742">442</text></g>
<g id="n441" class="nd a"><circle cx="1135" cy="742" r="14"/><text x="1135" y="742">441</text></g>
<g id="n440" class="nd a"><circle cx="1173" cy="742" r="14"/><text x="1173" y="742">440</text></g>
<g id="n439" class="nd a"><circle cx="1212" cy="742" r="14"/><text x="1212" y="742">439</text></g>
<g id="n438" class="nd g"><circle cx="1250" cy="742" r="14"/><text x="1250" y="742">438</text></g>
<g id="n468" class="nd g"><circle cx="1288" cy="739" r="14"/><text x="1288" y="739">468</text></g>
<g id="n434" class="nd g"><circle cx="32" cy="774" r="14"/><text x="32" y="774">434</text></g>
<g id="n409" class="nd r"><circle cx="70" cy="776" r="14"/><text x="70" y="776">409</text></g>
<g id="n403" class="nd a"><circle cx="109" cy="776" r="14"/><text x="109" y="776">403</text></g>
<g id="n433" class="nd y"><circle cx="149" cy="776" r="14"/><text x="149" y="776">433</text></g>
<g id="n431" class="nd a"><circle cx="187" cy="776" r="14"/><text x="187" y="776">431</text></g>
<g id="n429" class="nd a"><circle cx="226" cy="776" r="14"/><text x="226" y="776">429</text></g>
<g id="n425" class="nd g"><circle cx="265" cy="776" r="14"/><text x="265" y="776">425</text></g>
<g id="n430" class="nd a"><circle cx="304" cy="776" r="14"/><text x="304" y="776">430</text></g>
<g id="n426" class="nd a"><circle cx="342" cy="776" r="14"/><text x="342" y="776">426</text></g>
<g id="n428" class="nd c"><circle cx="381" cy="776" r="14"/><text x="381" y="776">428</text></g>
<g id="n432" class="nd g"><circle cx="419" cy="776" r="14"/><text x="419" y="776">432</text></g>
<g id="n427" class="nd a"><circle cx="458" cy="776" r="14"/><text x="458" y="776">427</text></g>
<g id="n424" class="nd y"><circle cx="497" cy="776" r="14"/><text x="497" y="776">424</text></g>
<g id="n423" class="nd g"><circle cx="536" cy="776" r="14"/><text x="536" y="776">423</text></g>
<g id="n422" class="nd p"><circle cx="575" cy="776" r="14"/><text x="575" y="776">422</text></g>
<g id="n421" class="nd c"><circle cx="613" cy="776" r="14"/><text x="613" y="776">421</text></g>
<g id="n420" class="nd r"><circle cx="652" cy="776" r="14"/><text x="652" y="776">420</text></g>
<g id="n419" class="nd c"><circle cx="690" cy="776" r="14"/><text x="690" y="776">419</text></g>
<g id="n418" class="nd g"><circle cx="729" cy="776" r="14"/><text x="729" y="776">418</text></g>
<g id="n417" class="nd g"><circle cx="768" cy="776" r="14"/><text x="768" y="776">417</text></g>
<g id="n416" class="nd c"><circle cx="807" cy="776" r="14"/><text x="807" y="776">416</text></g>
<g id="n415" class="nd a"><circle cx="845" cy="776" r="14"/><text x="845" y="776">415</text></g>
<g id="n414" class="nd g"><circle cx="884" cy="776" r="14"/><text x="884" y="776">414</text></g>
<g id="n413" class="nd c"><circle cx="922" cy="776" r="14"/><text x="922" y="776">413</text></g>
<g id="n412" class="nd g"><circle cx="961" cy="776" r="14"/><text x="961" y="776">412</text></g>
<g id="n411" class="nd a"><circle cx="999" cy="776" r="14"/><text x="999" y="776">411</text></g>
<g id="n410" class="nd y"><circle cx="1038" cy="776" r="14"/><text x="1038" y="776">410</text></g>
<g id="n408" class="nd c"><circle cx="1077" cy="776" r="14"/><text x="1077" y="776">408</text></g>
<g id="n407" class="nd a"><circle cx="1115" cy="776" r="14"/><text x="1115" y="776">407</text></g>
<g id="n406" class="nd a"><circle cx="1154" cy="776" r="14"/><text x="1154" y="776">406</text></g>
<g id="n405" class="nd g"><circle cx="1193" cy="776" r="14"/><text x="1193" y="776">405</text></g>
<g id="n404" class="nd a"><circle cx="1231" cy="776" r="14"/><text x="1231" y="776">404</text></g>
<g id="n402" class="nd r"><circle cx="1273" cy="776" r="14"/><text x="1273" y="776">402</text></g>
<g id="n435" class="nd g"><circle cx="1312" cy="769" r="14"/><text x="1312" y="769">435</text></g>
<g id="n369" class="nd g"><circle cx="38" cy="812" r="14"/><text x="38" y="812">369</text></g>
<g id="n370" class="nd g"><circle cx="90" cy="810" r="14"/><text x="90" y="810">370</text></g>
<g id="n400" class="nd a"><circle cx="129" cy="809" r="14"/><text x="129" y="809">400</text></g>
<g id="n398" class="nd a"><circle cx="168" cy="809" r="14"/><text x="168" y="809">398</text></g>
<g id="n397" class="nd a"><circle cx="207" cy="809" r="14"/><text x="207" y="809">397</text></g>
<g id="n393" class="nd a"><circle cx="245" cy="809" r="14"/><text x="245" y="809">393</text></g>
<g id="n396" class="nd y"><circle cx="284" cy="809" r="14"/><text x="284" y="809">396</text></g>
<g id="n392" class="nd a"><circle cx="323" cy="809" r="14"/><text x="323" y="809">392</text></g>
<g id="n394" class="nd a"><circle cx="361" cy="809" r="14"/><text x="361" y="809">394</text></g>
<g id="n399" class="nd p"><circle cx="400" cy="809" r="14"/><text x="400" y="809">399</text></g>
<g id="n395" class="nd c"><circle cx="439" cy="809" r="14"/><text x="439" y="809">395</text></g>
<g id="n391" class="nd g"><circle cx="477" cy="809" r="14"/><text x="477" y="809">391</text></g>
<g id="n390" class="nd g"><circle cx="516" cy="809" r="14"/><text x="516" y="809">390</text></g>
<g id="n389" class="nd c"><circle cx="555" cy="809" r="14"/><text x="555" y="809">389</text></g>
<g id="n388" class="nd c"><circle cx="593" cy="809" r="14"/><text x="593" y="809">388</text></g>
<g id="n387" class="nd r"><circle cx="632" cy="809" r="14"/><text x="632" y="809">387</text></g>
<g id="n386" class="nd c"><circle cx="670" cy="809" r="14"/><text x="670" y="809">386</text></g>
<g id="n385" class="nd c"><circle cx="710" cy="809" r="14"/><text x="710" y="809">385</text></g>
<g id="n384" class="nd a"><circle cx="749" cy="809" r="14"/><text x="749" y="809">384</text></g>
<g id="n383" class="nd r"><circle cx="787" cy="809" r="14"/><text x="787" y="809">383</text></g>
<g id="n382" class="nd a"><circle cx="826" cy="809" r="14"/><text x="826" y="809">382</text></g>
<g id="n381" class="nd r"><circle cx="864" cy="809" r="14"/><text x="864" y="809">381</text></g>
<g id="n380" class="nd a"><circle cx="903" cy="809" r="14"/><text x="903" y="809">380</text></g>
<g id="n379" class="nd g"><circle cx="942" cy="809" r="14"/><text x="942" y="809">379</text></g>
<g id="n378" class="nd y"><circle cx="980" cy="809" r="14"/><text x="980" y="809">378</text></g>
<g id="n377" class="nd a"><circle cx="1018" cy="809" r="14"/><text x="1018" y="809">377</text></g>
<g id="n376" class="nd a"><circle cx="1057" cy="809" r="14"/><text x="1057" y="809">376</text></g>
<g id="n375" class="nd a"><circle cx="1096" cy="809" r="14"/><text x="1096" y="809">375</text></g>
<g id="n374" class="nd c"><circle cx="1135" cy="809" r="14"/><text x="1135" y="809">374</text></g>
<g id="n373" class="nd y"><circle cx="1173" cy="809" r="14"/><text x="1173" y="809">373</text></g>
<g id="n372" class="nd g"><circle cx="1212" cy="809" r="14"/><text x="1212" y="809">372</text></g>
<g id="n371" class="nd g"><circle cx="1250" cy="809" r="14"/><text x="1250" y="809">371</text></g>
<g id="n401" class="nd g"><circle cx="1305" cy="807" r="14"/><text x="1305" y="807">401</text></g>
<g id="n367" class="nd g"><circle cx="65" cy="840" r="14"/><text x="65" y="840">367</text></g>
<g id="n366" class="nd a"><circle cx="110" cy="843" r="14"/><text x="110" y="843">366</text></g>
<g id="n365" class="nd a"><circle cx="149" cy="843" r="14"/><text x="149" y="843">365</text></g>
<g id="n364" class="nd a"><circle cx="187" cy="843" r="14"/><text x="187" y="843">364</text></g>
<g id="n360" class="nd a"><circle cx="226" cy="843" r="14"/><text x="226" y="843">360</text></g>
<g id="n363" class="nd a"><circle cx="265" cy="843" r="14"/><text x="265" y="843">363</text></g>
<g id="n359" class="nd a"><circle cx="304" cy="843" r="14"/><text x="304" y="843">359</text></g>
<g id="n361" class="nd a"><circle cx="342" cy="843" r="14"/><text x="342" y="843">361</text></g>
<g id="n362" class="nd g"><circle cx="381" cy="843" r="14"/><text x="381" y="843">362</text></g>
<g id="n358" class="nd a"><circle cx="419" cy="843" r="14"/><text x="419" y="843">358</text></g>
<g id="n357" class="nd c"><circle cx="458" cy="843" r="14"/><text x="458" y="843">357</text></g>
<g id="n356" class="nd c"><circle cx="497" cy="843" r="14"/><text x="497" y="843">356</text></g>
<g id="n355" class="nd c"><circle cx="536" cy="843" r="14"/><text x="536" y="843">355</text></g>
<g id="n354" class="nd c"><circle cx="575" cy="843" r="14"/><text x="575" y="843">354</text></g>
<g id="n353" class="nd p"><circle cx="613" cy="843" r="14"/><text x="613" y="843">353</text></g>
<g id="n352" class="nd c"><circle cx="652" cy="843" r="14"/><text x="652" y="843">352</text></g>
<g id="n351" class="nd c"><circle cx="690" cy="843" r="14"/><text x="690" y="843">351</text></g>
<g id="n350" class="nd c"><circle cx="729" cy="843" r="14"/><text x="729" y="843">350</text></g>
<g id="n349" class="nd c"><circle cx="768" cy="843" r="14"/><text x="768" y="843">349</text></g>
<g id="n348" class="nd c"><circle cx="807" cy="843" r="14"/><text x="807" y="843">348</text></g>
<g id="n347" class="nd g"><circle cx="845" cy="843" r="14"/><text x="845" y="843">347</text></g>
<g id="n346" class="nd c"><circle cx="884" cy="843" r="14"/><text x="884" y="843">346</text></g>
<g id="n345" class="nd p"><circle cx="922" cy="843" r="14"/><text x="922" y="843">345</text></g>
<g id="n344" class="nd g"><circle cx="961" cy="843" r="14"/><text x="961" y="843">344</text></g>
<g id="n343" class="nd g"><circle cx="999" cy="843" r="14"/><text x="999" y="843">343</text></g>
<g id="n342" class="nd a"><circle cx="1038" cy="843" r="14"/><text x="1038" y="843">342</text></g>
<g id="n341" class="nd a"><circle cx="1077" cy="843" r="14"/><text x="1077" y="843">341</text></g>
<g id="n340" class="nd c"><circle cx="1115" cy="843" r="14"/><text x="1115" y="843">340</text></g>
<g id="n339" class="nd c"><circle cx="1154" cy="843" r="14"/><text x="1154" y="843">339</text></g>
<g id="n338" class="nd a"><circle cx="1193" cy="843" r="14"/><text x="1193" y="843">338</text></g>
<g id="n337" class="nd r"><circle cx="1232" cy="843" r="14"/><text x="1232" y="843">337</text></g>
<g id="n368" class="nd g"><circle cx="1279" cy="836" r="14"/><text x="1279" y="836">368</text></g>
<g id="n336" class="nd a"><circle cx="85" cy="872" r="14"/><text x="85" y="872">336</text></g>
<g id="n327" class="nd r"><circle cx="129" cy="876" r="14"/><text x="129" y="876">327</text></g>
<g id="n334" class="nd a"><circle cx="168" cy="876" r="14"/><text x="168" y="876">334</text></g>
<g id="n330" class="nd a"><circle cx="207" cy="876" r="14"/><text x="207" y="876">330</text></g>
<g id="n333" class="nd a"><circle cx="245" cy="876" r="14"/><text x="245" y="876">333</text></g>
<g id="n329" class="nd a"><circle cx="284" cy="876" r="14"/><text x="284" y="876">329</text></g>
<g id="n331" class="nd a"><circle cx="323" cy="876" r="14"/><text x="323" y="876">331</text></g>
<g id="n332" class="nd a"><circle cx="361" cy="876" r="14"/><text x="361" y="876">332</text></g>
<g id="n328" class="nd a"><circle cx="400" cy="876" r="14"/><text x="400" y="876">328</text></g>
<g id="n326" class="nd a"><circle cx="439" cy="876" r="14"/><text x="439" y="876">326</text></g>
<g id="n325" class="nd a"><circle cx="477" cy="876" r="14"/><text x="477" y="876">325</text></g>
<g id="n324" class="nd a"><circle cx="516" cy="876" r="14"/><text x="516" y="876">324</text></g>
<g id="n323" class="nd g"><circle cx="555" cy="876" r="14"/><text x="555" y="876">323</text></g>
<g id="n322" class="nd c"><circle cx="593" cy="876" r="14"/><text x="593" y="876">322</text></g>
<g id="n321" class="nd c"><circle cx="632" cy="876" r="14"/><text x="632" y="876">321</text></g>
<g id="n320" class="nd c"><circle cx="670" cy="876" r="14"/><text x="670" y="876">320</text></g>
<g id="n319" class="nd c"><circle cx="710" cy="876" r="14"/><text x="710" y="876">319</text></g>
<g id="n318" class="nd r"><circle cx="749" cy="876" r="14"/><text x="749" y="876">318</text></g>
<g id="n317" class="nd a"><circle cx="787" cy="876" r="14"/><text x="787" y="876">317</text></g>
<g id="n316" class="nd c"><circle cx="826" cy="876" r="14"/><text x="826" y="876">316</text></g>
<g id="n315" class="nd a"><circle cx="864" cy="876" r="14"/><text x="864" y="876">315</text></g>
<g id="n314" class="nd c"><circle cx="903" cy="876" r="14"/><text x="903" y="876">314</text></g>
<g id="n313" class="nd g"><circle cx="942" cy="876" r="14"/><text x="942" y="876">313</text></g>
<g id="n312" class="nd c"><circle cx="980" cy="876" r="14"/><text x="980" y="876">312</text></g>
<g id="n311" class="nd a"><circle cx="1018" cy="876" r="14"/><text x="1018" y="876">311</text></g>
<g id="n310" class="nd y"><circle cx="1057" cy="876" r="14"/><text x="1057" y="876">310</text></g>
<g id="n309" class="nd c"><circle cx="1096" cy="876" r="14"/><text x="1096" y="876">309</text></g>
<g id="n308" class="nd c"><circle cx="1135" cy="876" r="14"/><text x="1135" y="876">308</text></g>
<g id="n307" class="nd c"><circle cx="1173" cy="876" r="14"/><text x="1173" y="876">307</text></g>
<g id="n306" class="nd g"><circle cx="1212" cy="876" r="14"/><text x="1212" y="876">306</text></g>
<g id="n305" class="nd g"><circle cx="1250" cy="878" r="14"/><text x="1250" y="878">305</text></g>
<g id="n335" class="nd g"><circle cx="1288" cy="873" r="14"/><text x="1288" y="873">335</text></g>
<g id="n304" class="nd a"><circle cx="66" cy="906" r="14"/><text x="66" y="906">304</text></g>
<g id="n303" class="nd g"><circle cx="105" cy="906" r="14"/><text x="105" y="906">303</text></g>
<g id="n301" class="nd g"><circle cx="149" cy="909" r="14"/><text x="149" y="909">301</text></g>
<g id="n297" class="nd a"><circle cx="187" cy="909" r="14"/><text x="187" y="909">297</text></g>
<g id="n300" class="nd a"><circle cx="226" cy="909" r="14"/><text x="226" y="909">300</text></g>
<g id="n296" class="nd a"><circle cx="265" cy="909" r="14"/><text x="265" y="909">296</text></g>
<g id="n298" class="nd a"><circle cx="304" cy="909" r="14"/><text x="304" y="909">298</text></g>
<g id="n299" class="nd a"><circle cx="342" cy="909" r="14"/><text x="342" y="909">299</text></g>
<g id="n295" class="nd a"><circle cx="381" cy="909" r="14"/><text x="381" y="909">295</text></g>
<g id="n294" class="nd a"><circle cx="419" cy="909" r="14"/><text x="419" y="909">294</text></g>
<g id="n293" class="nd a"><circle cx="458" cy="909" r="14"/><text x="458" y="909">293</text></g>
<g id="n292" class="nd g"><circle cx="497" cy="909" r="14"/><text x="497" y="909">292</text></g>
<g id="n291" class="nd a"><circle cx="536" cy="909" r="14"/><text x="536" y="909">291</text></g>
<g id="n290" class="nd c"><circle cx="575" cy="909" r="14"/><text x="575" y="909">290</text></g>
<g id="n289" class="nd c"><circle cx="613" cy="909" r="14"/><text x="613" y="909">289</text></g>
<g id="n288" class="nd p"><circle cx="652" cy="909" r="14"/><text x="652" y="909">288</text></g>
<g id="n287" class="nd c"><circle cx="690" cy="909" r="14"/><text x="690" y="909">287</text></g>
<g id="n286" class="nd r"><circle cx="729" cy="909" r="14"/><text x="729" y="909">286</text></g>
<g id="n285" class="nd c"><circle cx="768" cy="909" r="14"/><text x="768" y="909">285</text></g>
<g id="n284" class="nd a"><circle cx="807" cy="909" r="14"/><text x="807" y="909">284</text></g>
<g id="n283" class="nd c"><circle cx="845" cy="909" r="14"/><text x="845" y="909">283</text></g>
<g id="n282" class="nd r"><circle cx="884" cy="909" r="14"/><text x="884" y="909">282</text></g>
<g id="n281" class="nd a"><circle cx="922" cy="909" r="14"/><text x="922" y="909">281</text></g>
<g id="n280" class="nd g"><circle cx="961" cy="909" r="14"/><text x="961" y="909">280</text></g>
<g id="n279" class="nd c"><circle cx="999" cy="909" r="14"/><text x="999" y="909">279</text></g>
<g id="n278" class="nd c"><circle cx="1038" cy="909" r="14"/><text x="1038" y="909">278</text></g>
<g id="n277" class="nd c"><circle cx="1077" cy="909" r="14"/><text x="1077" y="909">277</text></g>
<g id="n276" class="nd r"><circle cx="1115" cy="910" r="14"/><text x="1115" y="910">276</text></g>
<g id="n275" class="nd r"><circle cx="1154" cy="910" r="14"/><text x="1154" y="910">275</text></g>
<g id="n274" class="nd r"><circle cx="1193" cy="910" r="14"/><text x="1193" y="910">274</text></g>
<g id="n273" class="nd g"><circle cx="1237" cy="914" r="14"/><text x="1237" y="914">273</text></g>
<g id="n302" class="nd r"><circle cx="1275" cy="909" r="14"/><text x="1275" y="909">302</text></g>
<g id="n271" class="nd g"><circle cx="81" cy="942" r="14"/><text x="81" y="942">271</text></g>
<g id="n272" class="nd g"><circle cx="125" cy="939" r="14"/><text x="125" y="939">272</text></g>
<g id="n243" class="nd r"><circle cx="165" cy="944" r="14"/><text x="165" y="944">243</text></g>
<g id="n270" class="nd a"><circle cx="207" cy="943" r="14"/><text x="207" y="943">270</text></g>
<g id="n267" class="nd a"><circle cx="245" cy="943" r="14"/><text x="245" y="943">267</text></g>
<g id="n268" class="nd a"><circle cx="284" cy="943" r="14"/><text x="284" y="943">268</text></g>
<g id="n269" class="nd a"><circle cx="323" cy="943" r="14"/><text x="323" y="943">269</text></g>
<g id="n266" class="nd a"><circle cx="361" cy="943" r="14"/><text x="361" y="943">266</text></g>
<g id="n265" class="nd a"><circle cx="400" cy="943" r="14"/><text x="400" y="943">265</text></g>
<g id="n264" class="nd a"><circle cx="439" cy="943" r="14"/><text x="439" y="943">264</text></g>
<g id="n263" class="nd c"><circle cx="477" cy="943" r="14"/><text x="477" y="943">263</text></g>
<g id="n262" class="nd a"><circle cx="516" cy="943" r="14"/><text x="516" y="943">262</text></g>
<g id="n261" class="nd c"><circle cx="555" cy="943" r="14"/><text x="555" y="943">261</text></g>
<g id="n260" class="nd g"><circle cx="593" cy="943" r="14"/><text x="593" y="943">260</text></g>
<g id="n259" class="nd p"><circle cx="632" cy="943" r="14"/><text x="632" y="943">259</text></g>
<g id="n258" class="nd c"><circle cx="670" cy="943" r="14"/><text x="670" y="943">258</text></g>
<g id="n257" class="nd r"><circle cx="710" cy="943" r="14"/><text x="710" y="943">257</text></g>
<g id="n256" class="nd c"><circle cx="749" cy="943" r="14"/><text x="749" y="943">256</text></g>
<g id="n255" class="nd c"><circle cx="787" cy="943" r="14"/><text x="787" y="943">255</text></g>
<g id="n254" class="nd a"><circle cx="826" cy="943" r="14"/><text x="826" y="943">254</text></g>
<g id="n253" class="nd p"><circle cx="864" cy="943" r="14"/><text x="864" y="943">253</text></g>
<g id="n252" class="nd c"><circle cx="903" cy="943" r="14"/><text x="903" y="943">252</text></g>
<g id="n251" class="nd p"><circle cx="942" cy="943" r="14"/><text x="942" y="943">251</text></g>
<g id="n250" class="nd g"><circle cx="980" cy="943" r="14"/><text x="980" y="943">250</text></g>
<g id="n249" class="nd c"><circle cx="1018" cy="943" r="14"/><text x="1018" y="943">249</text></g>
<g id="n248" class="nd r"><circle cx="1057" cy="943" r="14"/><text x="1057" y="943">248</text></g>
<g id="n247" class="nd g"><circle cx="1096" cy="943" r="14"/><text x="1096" y="943">247</text></g>
<g id="n246" class="nd c"><circle cx="1135" cy="943" r="14"/><text x="1135" y="943">246</text></g>
<g id="n245" class="nd c"><circle cx="1173" cy="943" r="14"/><text x="1173" y="943">245</text></g>
<g id="n244" class="nd g"><circle cx="1212" cy="943" r="14"/><text x="1212" y="943">244</text></g>
<g id="n242" class="nd g"><circle cx="1260" cy="945" r="14"/><text x="1260" y="945">242</text></g>
<g id="n240" class="nd g"><circle cx="98" cy="976" r="14"/><text x="98" y="976">240</text></g>
<g id="n241" class="nd g"><circle cx="137" cy="975" r="14"/><text x="137" y="975">241</text></g>
<g id="n239" class="nd g"><circle cx="187" cy="976" r="14"/><text x="187" y="976">239</text></g>
<g id="n236" class="nd a"><circle cx="226" cy="976" r="14"/><text x="226" y="976">236</text></g>
<g id="n237" class="nd a"><circle cx="265" cy="976" r="14"/><text x="265" y="976">237</text></g>
<g id="n238" class="nd a"><circle cx="304" cy="976" r="14"/><text x="304" y="976">238</text></g>
<g id="n235" class="nd a"><circle cx="342" cy="976" r="14"/><text x="342" y="976">235</text></g>
<g id="n234" class="nd a"><circle cx="381" cy="976" r="14"/><text x="381" y="976">234</text></g>
<g id="n233" class="nd a"><circle cx="419" cy="976" r="14"/><text x="419" y="976">233</text></g>
<g id="n232" class="nd c"><circle cx="458" cy="976" r="14"/><text x="458" y="976">232</text></g>
<g id="n231" class="nd a"><circle cx="497" cy="976" r="14"/><text x="497" y="976">231</text></g>
<g id="n230" class="nd c"><circle cx="536" cy="976" r="14"/><text x="536" y="976">230</text></g>
<g id="n229" class="nd a"><circle cx="575" cy="976" r="14"/><text x="575" y="976">229</text></g>
<g id="n228" class="nd g"><circle cx="613" cy="976" r="14"/><text x="613" y="976">228</text></g>
<g id="n227" class="nd g"><circle cx="652" cy="976" r="14"/><text x="652" y="976">227</text></g>
<g id="n226" class="nd p"><circle cx="690" cy="977" r="14"/><text x="690" y="977">226</text></g>
<g id="n225" class="nd c"><circle cx="729" cy="977" r="14"/><text x="729" y="977">225</text></g>
<g id="n224" class="nd c"><circle cx="768" cy="977" r="14"/><text x="768" y="977">224</text></g>
<g id="n223" class="nd c"><circle cx="807" cy="977" r="14"/><text x="807" y="977">223</text></g>
<g id="n222" class="nd a"><circle cx="845" cy="977" r="14"/><text x="845" y="977">222</text></g>
<g id="n221" class="nd c"><circle cx="884" cy="977" r="14"/><text x="884" y="977">221</text></g>
<g id="n220" class="nd c"><circle cx="922" cy="977" r="14"/><text x="922" y="977">220</text></g>
<g id="n219" class="nd c"><circle cx="961" cy="977" r="14"/><text x="961" y="977">219</text></g>
<g id="n218" class="nd g"><circle cx="999" cy="977" r="14"/><text x="999" y="977">218</text></g>
<g id="n217" class="nd p"><circle cx="1038" cy="977" r="14"/><text x="1038" y="977">217</text></g>
<g id="n216" class="nd c"><circle cx="1077" cy="977" r="14"/><text x="1077" y="977">216</text></g>
<g id="n215" class="nd r"><circle cx="1115" cy="977" r="14"/><text x="1115" y="977">215</text></g>
<g id="n214" class="nd r"><circle cx="1154" cy="977" r="14"/><text x="1154" y="977">214</text></g>
<g id="n212" class="nd g"><circle cx="1205" cy="982" r="14"/><text x="1205" y="982">212</text></g>
<g id="n213" class="nd c"><circle cx="1243" cy="979" r="14"/><text x="1243" y="979">213</text></g>
<g id="n185" class="nd r"><circle cx="118" cy="1012" r="14"/><text x="118" y="1012">185</text></g>
<g id="n211" class="nd g"><circle cx="162" cy="1006" r="14"/><text x="162" y="1006">211</text></g>
<g id="n186" class="nd r"><circle cx="204" cy="1012" r="14"/><text x="204" y="1012">186</text></g>
<g id="n208" class="nd a"><circle cx="245" cy="1010" r="14"/><text x="245" y="1010">208</text></g>
<g id="n209" class="nd y"><circle cx="284" cy="1010" r="14"/><text x="284" y="1010">209</text></g>
<g id="n207" class="nd a"><circle cx="323" cy="1010" r="14"/><text x="323" y="1010">207</text></g>
<g id="n206" class="nd a"><circle cx="361" cy="1010" r="14"/><text x="361" y="1010">206</text></g>
<g id="n205" class="nd a"><circle cx="400" cy="1010" r="14"/><text x="400" y="1010">205</text></g>
<g id="n204" class="nd c"><circle cx="439" cy="1010" r="14"/><text x="439" y="1010">204</text></g>
<g id="n203" class="nd a"><circle cx="477" cy="1010" r="14"/><text x="477" y="1010">203</text></g>
<g id="n202" class="nd c"><circle cx="516" cy="1010" r="14"/><text x="516" y="1010">202</text></g>
<g id="n201" class="nd a"><circle cx="555" cy="1010" r="14"/><text x="555" y="1010">201</text></g>
<g id="n200" class="nd g"><circle cx="593" cy="1010" r="14"/><text x="593" y="1010">200</text></g>
<g id="n199" class="nd a"><circle cx="632" cy="1010" r="14"/><text x="632" y="1010">199</text></g>
<g id="n198" class="nd c"><circle cx="670" cy="1010" r="14"/><text x="670" y="1010">198</text></g>
<g id="n197" class="nd c"><circle cx="710" cy="1011" r="14"/><text x="710" y="1011">197</text></g>
<g id="n196" class="nd c"><circle cx="749" cy="1011" r="14"/><text x="749" y="1011">196</text></g>
<g id="n195" class="nd c"><circle cx="787" cy="1010" r="14"/><text x="787" y="1010">195</text></g>
<g id="n194" class="nd c"><circle cx="826" cy="1010" r="14"/><text x="826" y="1010">194</text></g>
<g id="n193" class="nd a"><circle cx="864" cy="1010" r="14"/><text x="864" y="1010">193</text></g>
<g id="n192" class="nd c"><circle cx="903" cy="1010" r="14"/><text x="903" y="1010">192</text></g>
<g id="n191" class="nd c"><circle cx="942" cy="1010" r="14"/><text x="942" y="1010">191</text></g>
<g id="n190" class="nd c"><circle cx="980" cy="1010" r="14"/><text x="980" y="1010">190</text></g>
<g id="n189" class="nd p"><circle cx="1018" cy="1010" r="14"/><text x="1018" y="1010">189</text></g>
<g id="n188" class="nd c"><circle cx="1057" cy="1010" r="14"/><text x="1057" y="1010">188</text></g>
<g id="n187" class="nd r"><circle cx="1096" cy="1010" r="14"/><text x="1096" y="1010">187</text></g>
<g id="n184" class="nd p"><circle cx="1138" cy="1013" r="14"/><text x="1138" y="1013">184</text></g>
<g id="n210" class="nd g"><circle cx="1177" cy="1009" r="14"/><text x="1177" y="1009">210</text></g>
<g id="n183" class="nd g"><circle cx="1222" cy="1016" r="14"/><text x="1222" y="1016">183</text></g>
<g id="n159" class="nd r"><circle cx="139" cy="1043" r="14"/><text x="139" y="1043">159</text></g>
<g id="n182" class="nd g"><circle cx="179" cy="1041" r="14"/><text x="179" y="1041">182</text></g>
<g id="n178" class="nd a"><circle cx="226" cy="1043" r="14"/><text x="226" y="1043">178</text></g>
<g id="n181" class="nd a"><circle cx="265" cy="1043" r="14"/><text x="265" y="1043">181</text></g>
<g id="n180" class="nd a"><circle cx="304" cy="1043" r="14"/><text x="304" y="1043">180</text></g>
<g id="n179" class="nd a"><circle cx="342" cy="1043" r="14"/><text x="342" y="1043">179</text></g>
<g id="n177" class="nd a"><circle cx="381" cy="1043" r="14"/><text x="381" y="1043">177</text></g>
<g id="n176" class="nd c"><circle cx="419" cy="1043" r="14"/><text x="419" y="1043">176</text></g>
<g id="n175" class="nd a"><circle cx="458" cy="1043" r="14"/><text x="458" y="1043">175</text></g>
<g id="n174" class="nd c"><circle cx="497" cy="1043" r="14"/><text x="497" y="1043">174</text></g>
<g id="n173" class="nd a"><circle cx="536" cy="1043" r="14"/><text x="536" y="1043">173</text></g>
<g id="n172" class="nd g"><circle cx="575" cy="1043" r="14"/><text x="575" y="1043">172</text></g>
<g id="n171" class="nd a"><circle cx="613" cy="1043" r="14"/><text x="613" y="1043">171</text></g>
<g id="n170" class="nd p"><circle cx="652" cy="1043" r="14"/><text x="652" y="1043">170</text></g>
<g id="n169" class="nd c"><circle cx="690" cy="1043" r="14"/><text x="690" y="1043">169</text></g>
<g id="n168" class="nd c"><circle cx="729" cy="1043" r="14"/><text x="729" y="1043">168</text></g>
<g id="n167" class="nd c"><circle cx="768" cy="1043" r="14"/><text x="768" y="1043">167</text></g>
<g id="n166" class="nd g"><circle cx="806" cy="1043" r="14"/><text x="806" y="1043">166</text></g>
<g id="n165" class="nd c"><circle cx="845" cy="1043" r="14"/><text x="845" y="1043">165</text></g>
<g id="n164" class="nd a"><circle cx="883" cy="1043" r="14"/><text x="883" y="1043">164</text></g>
<g id="n163" class="nd c"><circle cx="922" cy="1043" r="14"/><text x="922" y="1043">163</text></g>
<g id="n162" class="nd c"><circle cx="961" cy="1043" r="14"/><text x="961" y="1043">162</text></g>
<g id="n161" class="nd c"><circle cx="999" cy="1043" r="14"/><text x="999" y="1043">161</text></g>
<g id="n160" class="nd c"><circle cx="1038" cy="1043" r="14"/><text x="1038" y="1043">160</text></g>
<g id="n158" class="nd r"><circle cx="1077" cy="1043" r="14"/><text x="1077" y="1043">158</text></g>
<g id="n157" class="nd r"><circle cx="1115" cy="1043" r="14"/><text x="1115" y="1043">157</text></g>
<g id="n156" class="nd g"><circle cx="1163" cy="1044" r="14"/><text x="1163" y="1044">156</text></g>
<g id="n155" class="nd g"><circle cx="1202" cy="1048" r="14"/><text x="1202" y="1048">155</text></g>
<g id="n152" class="nd g"><circle cx="162" cy="1075" r="14"/><text x="162" y="1075">152</text></g>
<g id="n154" class="nd a"><circle cx="200" cy="1072" r="14"/><text x="200" y="1072">154</text></g>
<g id="n130" class="nd c"><circle cx="244" cy="1077" r="14"/><text x="244" y="1077">130</text></g>
<g id="n151" class="nd g"><circle cx="284" cy="1077" r="14"/><text x="284" y="1077">151</text></g>
<g id="n150" class="nd a"><circle cx="323" cy="1077" r="14"/><text x="323" y="1077">150</text></g>
<g id="n149" class="nd a"><circle cx="361" cy="1077" r="14"/><text x="361" y="1077">149</text></g>
<g id="n148" class="nd c"><circle cx="400" cy="1077" r="14"/><text x="400" y="1077">148</text></g>
<g id="n147" class="nd a"><circle cx="439" cy="1077" r="14"/><text x="439" y="1077">147</text></g>
<g id="n146" class="nd c"><circle cx="477" cy="1077" r="14"/><text x="477" y="1077">146</text></g>
<g id="n145" class="nd a"><circle cx="516" cy="1077" r="14"/><text x="516" y="1077">145</text></g>
<g id="n144" class="nd c"><circle cx="555" cy="1077" r="14"/><text x="555" y="1077">144</text></g>
<g id="n143" class="nd a"><circle cx="593" cy="1077" r="14"/><text x="593" y="1077">143</text></g>
<g id="n142" class="nd c"><circle cx="632" cy="1077" r="14"/><text x="632" y="1077">142</text></g>
<g id="n141" class="nd g"><circle cx="670" cy="1077" r="14"/><text x="670" y="1077">141</text></g>
<g id="n140" class="nd c"><circle cx="710" cy="1077" r="14"/><text x="710" y="1077">140</text></g>
<g id="n139" class="nd c"><circle cx="749" cy="1077" r="14"/><text x="749" y="1077">139</text></g>
<g id="n138" class="nd g"><circle cx="787" cy="1077" r="14"/><text x="787" y="1077">138</text></g>
<g id="n137" class="nd a"><circle cx="826" cy="1077" r="14"/><text x="826" y="1077">137</text></g>
<g id="n136" class="nd c"><circle cx="864" cy="1077" r="14"/><text x="864" y="1077">136</text></g>
<g id="n135" class="nd a"><circle cx="903" cy="1077" r="14"/><text x="903" y="1077">135</text></g>
<g id="n134" class="nd c"><circle cx="942" cy="1077" r="14"/><text x="942" y="1077">134</text></g>
<g id="n133" class="nd c"><circle cx="980" cy="1077" r="14"/><text x="980" y="1077">133</text></g>
<g id="n132" class="nd g"><circle cx="1018" cy="1077" r="14"/><text x="1018" y="1077">132</text></g>
<g id="n131" class="nd c"><circle cx="1057" cy="1077" r="14"/><text x="1057" y="1077">131</text></g>
<g id="n129" class="nd r"><circle cx="1097" cy="1078" r="14"/><text x="1097" y="1078">129</text></g>
<g id="n153" class="nd c"><circle cx="1138" cy="1074" r="14"/><text x="1138" y="1074">153</text></g>
<g id="n128" class="nd r"><circle cx="1177" cy="1081" r="14"/><text x="1177" y="1081">128</text></g>
<g id="n127" class="nd g"><circle cx="190" cy="1109" r="14"/><text x="190" y="1109">127</text></g>
<g id="n102" class="nd g"><circle cx="228" cy="1121" r="14"/><text x="228" y="1121">102</text></g>
<g id="n125" class="nd g"><circle cx="265" cy="1110" r="14"/><text x="265" y="1110">125</text></g>
<g id="n126" class="nd y"><circle cx="304" cy="1110" r="14"/><text x="304" y="1110">126</text></g>
<g id="n124" class="nd y"><circle cx="342" cy="1110" r="14"/><text x="342" y="1110">124</text></g>
<g id="n123" class="nd c"><circle cx="381" cy="1110" r="14"/><text x="381" y="1110">123</text></g>
<g id="n122" class="nd y"><circle cx="419" cy="1110" r="14"/><text x="419" y="1110">122</text></g>
<g id="n121" class="nd c"><circle cx="458" cy="1110" r="14"/><text x="458" y="1110">121</text></g>
<g id="n120" class="nd y"><circle cx="497" cy="1110" r="14"/><text x="497" y="1110">120</text></g>
<g id="n119" class="nd p"><circle cx="535" cy="1110" r="14"/><text x="535" y="1110">119</text></g>
<g id="n118" class="nd c"><circle cx="574" cy="1110" r="14"/><text x="574" y="1110">118</text></g>
<g id="n117" class="nd r"><circle cx="612" cy="1110" r="14"/><text x="612" y="1110">117</text></g>
<g id="n116" class="nd c"><circle cx="651" cy="1110" r="14"/><text x="651" y="1110">116</text></g>
<g id="n115" class="nd c"><circle cx="690" cy="1110" r="14"/><text x="690" y="1110">115</text></g>
<g id="n114" class="nd c"><circle cx="729" cy="1110" r="14"/><text x="729" y="1110">114</text></g>
<g id="n113" class="nd g"><circle cx="768" cy="1110" r="14"/><text x="768" y="1110">113</text></g>
<g id="n112" class="nd a"><circle cx="806" cy="1110" r="14"/><text x="806" y="1110">112</text></g>
<g id="n111" class="nd a"><circle cx="844" cy="1110" r="14"/><text x="844" y="1110">111</text></g>
<g id="n110" class="nd c"><circle cx="883" cy="1110" r="14"/><text x="883" y="1110">110</text></g>
<g id="n109" class="nd a"><circle cx="921" cy="1110" r="14"/><text x="921" y="1110">109</text></g>
<g id="n108" class="nd g"><circle cx="960" cy="1110" r="14"/><text x="960" y="1110">108</text></g>
<g id="n107" class="nd c"><circle cx="999" cy="1110" r="14"/><text x="999" y="1110">107</text></g>
<g id="n106" class="nd c"><circle cx="1037" cy="1110" r="14"/><text x="1037" y="1110">106</text></g>
<g id="n105" class="nd r"><circle cx="1076" cy="1110" r="14"/><text x="1076" y="1110">105</text></g>
<g id="n103" class="nd r"><circle cx="1114" cy="1119" r="14"/><text x="1114" y="1119">103</text></g>
<g id="n104" class="nd c"><circle cx="1151" cy="1111" r="14"/><text x="1151" y="1111">104</text></g>
<g id="n80" class="nd g"><circle cx="239" cy="1157" r="14"/><text x="239" y="1157">80</text></g>
<g id="n82" class="nd r"><circle cx="284" cy="1147" r="14"/><text x="284" y="1147">82</text></g>
<g id="n101" class="nd a"><circle cx="323" cy="1143" r="14"/><text x="323" y="1143">101</text></g>
<g id="n100" class="nd a"><circle cx="361" cy="1144" r="14"/><text x="361" y="1144">100</text></g>
<g id="n99" class="nd y"><circle cx="400" cy="1144" r="14"/><text x="400" y="1144">99</text></g>
<g id="n98" class="nd a"><circle cx="439" cy="1144" r="14"/><text x="439" y="1144">98</text></g>
<g id="n97" class="nd a"><circle cx="477" cy="1144" r="14"/><text x="477" y="1144">97</text></g>
<g id="n96" class="nd c"><circle cx="516" cy="1144" r="14"/><text x="516" y="1144">96</text></g>
<g id="n95" class="nd c"><circle cx="555" cy="1144" r="14"/><text x="555" y="1144">95</text></g>
<g id="n94" class="nd r"><circle cx="593" cy="1144" r="14"/><text x="593" y="1144">94</text></g>
<g id="n93" class="nd c"><circle cx="632" cy="1144" r="14"/><text x="632" y="1144">93</text></g>
<g id="n92" class="nd c"><circle cx="670" cy="1144" r="14"/><text x="670" y="1144">92</text></g>
<g id="n91" class="nd g"><circle cx="710" cy="1144" r="14"/><text x="710" y="1144">91</text></g>
<g id="n90" class="nd a"><circle cx="747" cy="1144" r="14"/><text x="747" y="1144">90</text></g>
<g id="n89" class="nd a"><circle cx="786" cy="1144" r="14"/><text x="786" y="1144">89</text></g>
<g id="n88" class="nd a"><circle cx="825" cy="1144" r="14"/><text x="825" y="1144">88</text></g>
<g id="n87" class="nd a"><circle cx="864" cy="1144" r="14"/><text x="864" y="1144">87</text></g>
<g id="n86" class="nd c"><circle cx="902" cy="1144" r="14"/><text x="902" y="1144">86</text></g>
<g id="n85" class="nd a"><circle cx="940" cy="1144" r="14"/><text x="940" y="1144">85</text></g>
<g id="n84" class="nd a"><circle cx="979" cy="1144" r="14"/><text x="979" y="1144">84</text></g>
<g id="n83" class="nd g"><circle cx="1018" cy="1144" r="14"/><text x="1018" y="1144">83</text></g>
<g id="n81" class="nd r"><circle cx="1060" cy="1147" r="14"/><text x="1060" y="1147">81</text></g>
<g id="n79" class="nd p"><circle cx="1105" cy="1157" r="14"/><text x="1105" y="1157">79</text></g>
<g id="n60" class="nd g"><circle cx="268" cy="1183" r="14"/><text x="268" y="1183">60</text></g>
<g id="n61" class="nd a"><circle cx="307" cy="1178" r="14"/><text x="307" y="1178">61</text></g>
<g id="n58" class="nd g"><circle cx="344" cy="1188" r="14"/><text x="344" y="1188">58</text></g>
<g id="n78" class="nd y"><circle cx="381" cy="1177" r="14"/><text x="381" y="1177">78</text></g>
<g id="n77" class="nd a"><circle cx="419" cy="1177" r="14"/><text x="419" y="1177">77</text></g>
<g id="n76" class="nd y"><circle cx="458" cy="1177" r="14"/><text x="458" y="1177">76</text></g>
<g id="n75" class="nd a"><circle cx="497" cy="1177" r="14"/><text x="497" y="1177">75</text></g>
<g id="n74" class="nd y"><circle cx="535" cy="1177" r="14"/><text x="535" y="1177">74</text></g>
<g id="n73" class="nd r"><circle cx="574" cy="1177" r="14"/><text x="574" y="1177">73</text></g>
<g id="n72" class="nd c"><circle cx="612" cy="1177" r="14"/><text x="612" y="1177">72</text></g>
<g id="n71" class="nd g"><circle cx="651" cy="1177" r="14"/><text x="651" y="1177">71</text></g>
<g id="n70" class="nd g"><circle cx="690" cy="1177" r="14"/><text x="690" y="1177">70</text></g>
<g id="n69" class="nd a"><circle cx="728" cy="1177" r="14"/><text x="728" y="1177">69</text></g>
<g id="n68" class="nd a"><circle cx="767" cy="1177" r="14"/><text x="767" y="1177">68</text></g>
<g id="n67" class="nd a"><circle cx="805" cy="1177" r="14"/><text x="805" y="1177">67</text></g>
<g id="n66" class="nd a"><circle cx="844" cy="1177" r="14"/><text x="844" y="1177">66</text></g>
<g id="n65" class="nd y"><circle cx="883" cy="1177" r="14"/><text x="883" y="1177">65</text></g>
<g id="n64" class="nd c"><circle cx="921" cy="1177" r="14"/><text x="921" y="1177">64</text></g>
<g id="n63" class="nd g"><circle cx="960" cy="1177" r="14"/><text x="960" y="1177">63</text></g>
<g id="n57" class="nd r"><circle cx="998" cy="1189" r="14"/><text x="998" y="1189">57</text></g>
<g id="n62" class="nd g"><circle cx="1037" cy="1178" r="14"/><text x="1037" y="1178">62</text></g>
<g id="n59" class="nd g"><circle cx="1075" cy="1182" r="14"/><text x="1075" y="1182">59</text></g>
<g id="n40" class="nd g"><circle cx="315" cy="1217" r="14"/><text x="315" y="1217">40</text></g>
<g id="n39" class="nd a"><circle cx="352" cy="1227" r="14"/><text x="352" y="1227">39</text></g>
<g id="n43" class="nd g"><circle cx="389" cy="1214" r="14"/><text x="389" y="1214">43</text></g>
<g id="n56" class="nd a"><circle cx="438" cy="1211" r="14"/><text x="438" y="1211">56</text></g>
<g id="n55" class="nd a"><circle cx="477" cy="1211" r="14"/><text x="477" y="1211">55</text></g>
<g id="n54" class="nd a"><circle cx="516" cy="1211" r="14"/><text x="516" y="1211">54</text></g>
<g id="n53" class="nd a"><circle cx="554" cy="1211" r="14"/><text x="554" y="1211">53</text></g>
<g id="n52" class="nd a"><circle cx="593" cy="1211" r="14"/><text x="593" y="1211">52</text></g>
<g id="n51" class="nd g"><circle cx="632" cy="1211" r="14"/><text x="632" y="1211">51</text></g>
<g id="n50" class="nd a"><circle cx="670" cy="1211" r="14"/><text x="670" y="1211">50</text></g>
<g id="n49" class="nd g"><circle cx="709" cy="1211" r="14"/><text x="709" y="1211">49</text></g>
<g id="n48" class="nd a"><circle cx="748" cy="1211" r="14"/><text x="748" y="1211">48</text></g>
<g id="n47" class="nd a"><circle cx="786" cy="1211" r="14"/><text x="786" y="1211">47</text></g>
<g id="n46" class="nd a"><circle cx="824" cy="1211" r="14"/><text x="824" y="1211">46</text></g>
<g id="n45" class="nd a"><circle cx="864" cy="1211" r="14"/><text x="864" y="1211">45</text></g>
<g id="n44" class="nd a"><circle cx="902" cy="1211" r="14"/><text x="902" y="1211">44</text></g>
<g id="n41" class="nd a"><circle cx="956" cy="1216" r="14"/><text x="956" y="1216">41</text></g>
<g id="n38" class="nd c"><circle cx="993" cy="1229" r="14"/><text x="993" y="1229">38</text></g>
<g id="n42" class="nd g"><circle cx="1029" cy="1216" r="14"/><text x="1029" y="1216">42</text></g>
<g id="n23" class="nd g"><circle cx="379" cy="1254" r="14"/><text x="379" y="1254">23</text></g>
<g id="n36" class="nd a"><circle cx="416" cy="1243" r="14"/><text x="416" y="1243">36</text></g>
<g id="n25" class="nd r"><circle cx="458" cy="1247" r="14"/><text x="458" y="1247">25</text></g>
<g id="n35" class="nd g"><circle cx="497" cy="1245" r="14"/><text x="497" y="1245">35</text></g>
<g id="n27" class="nd r"><circle cx="535" cy="1247" r="14"/><text x="535" y="1247">27</text></g>
<g id="n34" class="nd g"><circle cx="574" cy="1245" r="14"/><text x="574" y="1245">34</text></g>
<g id="n24" class="nd r"><circle cx="612" cy="1249" r="14"/><text x="612" y="1249">24</text></g>
<g id="n33" class="nd g"><circle cx="651" cy="1245" r="14"/><text x="651" y="1245">33</text></g>
<g id="n28" class="nd r"><circle cx="690" cy="1246" r="14"/><text x="690" y="1246">28</text></g>
<g id="n32" class="nd a"><circle cx="728" cy="1245" r="14"/><text x="728" y="1245">32</text></g>
<g id="n30" class="nd c"><circle cx="767" cy="1245" r="14"/><text x="767" y="1245">30</text></g>
<g id="n31" class="nd y"><circle cx="805" cy="1245" r="14"/><text x="805" y="1245">31</text></g>
<g id="n29" class="nd g"><circle cx="844" cy="1245" r="14"/><text x="844" y="1245">29</text></g>
<g id="n26" class="nd r"><circle cx="885" cy="1247" r="14"/><text x="885" y="1247">26</text></g>
<g id="n37" class="nd a"><circle cx="926" cy="1241" r="14"/><text x="926" y="1241">37</text></g>
<g id="n22" class="nd g"><circle cx="963" cy="1254" r="14"/><text x="963" y="1254">22</text></g>
<g id="n20" class="nd g"><circle cx="432" cy="1277" r="14"/><text x="432" y="1277">20</text></g>
<g id="n10" class="nd g"><circle cx="468" cy="1291" r="14"/><text x="468" y="1291">10</text></g>
<g id="n15" class="nd g"><circle cx="506" cy="1282" r="14"/><text x="506" y="1282">15</text></g>
<g id="n16" class="nd a"><circle cx="559" cy="1281" r="14"/><text x="559" y="1281">16</text></g>
<g id="n12" class="nd g"><circle cx="598" cy="1286" r="14"/><text x="598" y="1286">12</text></g>
<g id="n17" class="nd g"><circle cx="637" cy="1281" r="14"/><text x="637" y="1281">17</text></g>
<g id="n9" class="nd a"><circle cx="673" cy="1291" r="14"/><text x="673" y="1291">9</text></g>
<g id="n18" class="nd g"><circle cx="710" cy="1278" r="14"/><text x="710" y="1278">18</text></g>
<g id="n13" class="nd g"><circle cx="749" cy="1284" r="14"/><text x="749" y="1284">13</text></g>
<g id="n19" class="nd g"><circle cx="786" cy="1277" r="14"/><text x="786" y="1277">19</text></g>
<g id="n14" class="nd g"><circle cx="839" cy="1282" r="14"/><text x="839" y="1282">14</text></g>
<g id="n11" class="nd g"><circle cx="876" cy="1291" r="14"/><text x="876" y="1291">11</text></g>
<g id="n21" class="nd g"><circle cx="913" cy="1277" r="14"/><text x="913" y="1277">21</text></g>
<g id="n7" class="nd g"><circle cx="533" cy="1308" r="14"/><text x="533" y="1308">7</text></g>
<g id="n5" class="nd p"><circle cx="575" cy="1317" r="14"/><text x="575" y="1317">5</text></g>
<g id="n3" class="nd g"><circle cx="614" cy="1321" r="14"/><text x="614" y="1321">3</text></g>
<g id="n1" class="nd g"><circle cx="652" cy="1323" r="14"/><text x="652" y="1323">1</text></g>
<g id="n2" class="nd g"><circle cx="695" cy="1322" r="14"/><text x="695" y="1322">2</text></g>
<g id="n4" class="nd a"><circle cx="734" cy="1321" r="14"/><text x="734" y="1321">4</text></g>
<g id="n6" class="nd c"><circle cx="772" cy="1316" r="14"/><text x="772" y="1316">6</text></g>
<g id="n8" class="nd g"><circle cx="810" cy="1309" r="14"/><text x="810" y="1309">8</text></g>
</g>
</svg>
